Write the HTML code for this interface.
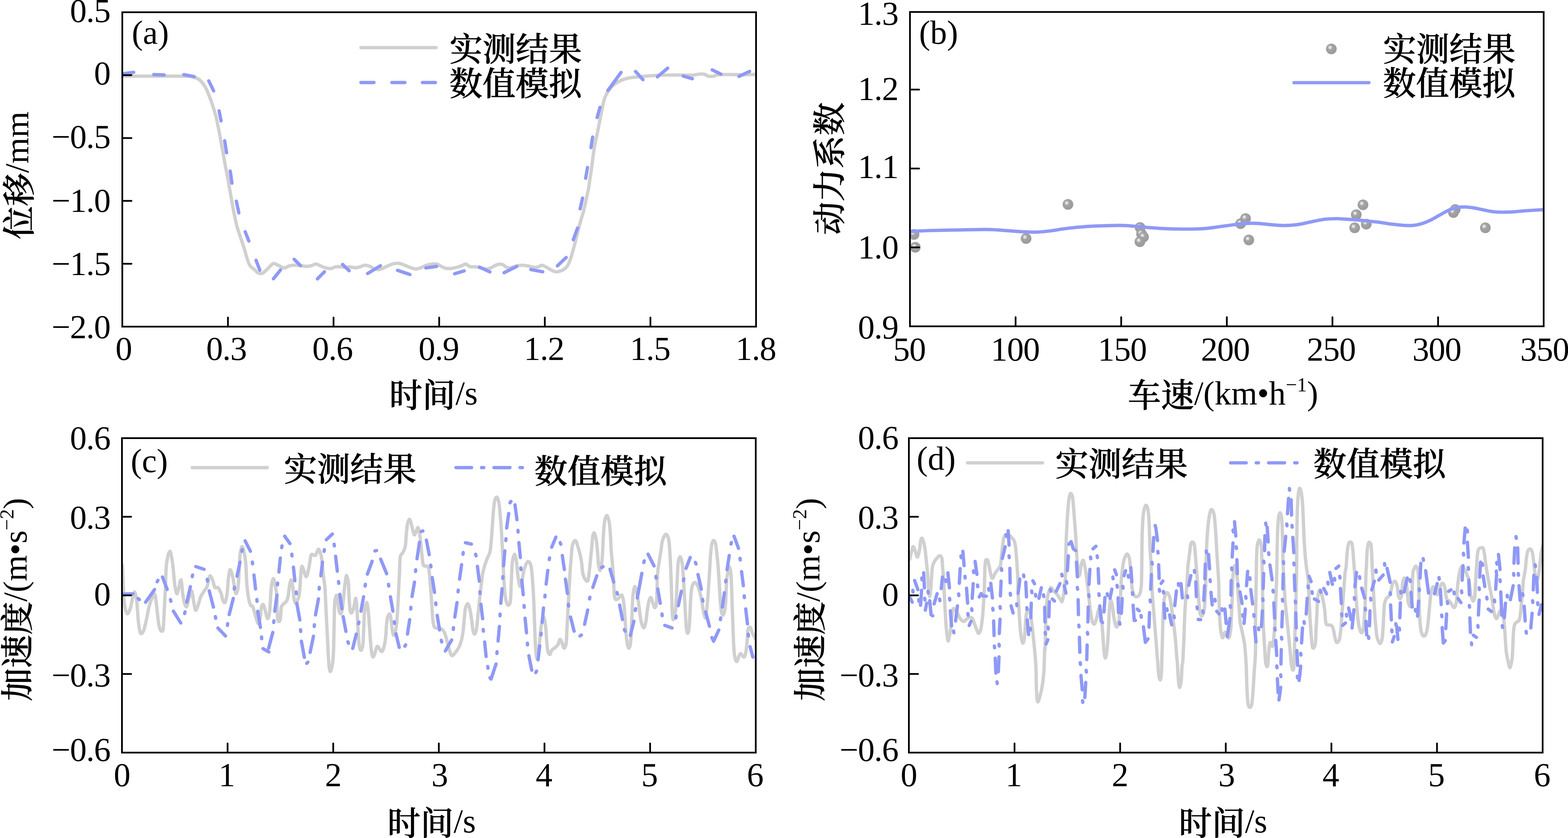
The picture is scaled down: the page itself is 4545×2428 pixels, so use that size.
<!DOCTYPE html>
<html lang="zh"><head><meta charset="utf-8"><title>Figure</title>
<style>html,body{margin:0;padding:0;background:#fff}body{width:4545px;height:2428px;overflow:hidden}svg{display:block}text{font-family:"Liberation Serif","Noto Serif CJK SC",serif;fill:#000}.t{font-size:97px}.k{letter-spacing:-1.5px}.c{font-size:96px;font-weight:500;stroke:#000;stroke-width:1.1px}.s{font-size:58px}.g{fill:none;stroke:#d0d0d0;stroke-width:9.7;stroke-linecap:round;stroke-linejoin:round}.b{fill:none;stroke:#8f99f6;stroke-width:9.7;stroke-linecap:round;stroke-linejoin:round}.ax{fill:none;stroke:#000;stroke-width:5}.tk{stroke:#000;stroke-width:5;stroke-linecap:round}</style></head><body>
<svg xmlns="http://www.w3.org/2000/svg" width="4545" height="2428" viewBox="0 0 4545 2428">
<defs>
<radialGradient id="sp" cx="0.40" cy="0.38" r="0.62" fx="0.38" fy="0.36"><stop offset="0" stop-color="#f4f4f4"/><stop offset="0.16" stop-color="#dcdcdc"/><stop offset="0.36" stop-color="#a4a4a4"/><stop offset="1" stop-color="#9a9a9a"/></radialGradient>
<clipPath id="cla"><rect x="354.5" y="35.5" width="1837.0" height="910.9"/></clipPath>
<clipPath id="clb"><rect x="2637.6" y="34.7" width="1836.9" height="910.8"/></clipPath>
<clipPath id="clc"><rect x="353.5" y="1269.5" width="1837.1" height="911.1"/></clipPath>
<clipPath id="cld"><rect x="2634.5" y="1269.5" width="1837.0" height="911.1"/></clipPath>
</defs>
<rect width="4545" height="2428" fill="#fff"/>
<g clip-path="url(#cla)">
<path class="g" d="M354.5,220.6C370.4,220.6 422.4,220.6 450.0,220.6C477.6,220.6 504.4,220.5 520.0,220.6C535.6,220.7 538.2,220.8 543.8,221.0C549.4,221.2 548.6,220.5 553.5,221.7C558.4,222.8 567.7,225.2 572.9,227.9C578.1,230.6 581.0,233.7 584.6,237.6C588.2,241.5 591.4,246.3 594.3,251.2C597.2,256.1 599.1,260.0 602.0,266.8C604.9,273.6 608.8,283.9 611.7,292.0C614.6,300.1 617.1,307.5 619.5,315.3C621.9,323.1 624.3,330.8 626.3,338.6C628.2,346.4 629.6,354.1 631.2,361.9C632.8,369.7 634.5,377.4 636.0,385.2C637.5,392.9 638.3,399.5 639.9,408.4C641.5,417.3 643.7,427.3 645.8,438.8C647.9,450.3 650.2,464.7 652.6,477.6C655.0,490.6 657.9,503.6 660.3,516.5C662.7,529.5 664.8,542.4 667.1,555.3C669.4,568.2 671.8,582.8 673.9,594.1C676.0,605.4 677.7,614.5 679.5,623.2C681.3,631.9 682.7,639.0 684.5,646.5C686.3,654.0 687.9,659.6 690.5,668.0C693.1,676.4 697.0,687.3 700.2,697.0C703.4,706.7 707.0,716.8 709.9,726.2C712.8,735.6 715.0,745.9 717.6,753.3C720.2,760.7 722.2,766.3 725.4,770.8C728.6,775.3 733.1,777.1 737.0,780.5C740.9,783.9 744.8,789.3 748.7,791.2C752.6,793.1 756.4,793.2 760.3,791.8C764.2,790.3 768.1,786.0 772.0,782.5C775.9,779.0 780.1,774.0 783.6,770.8C787.1,767.6 789.4,763.7 793.3,763.4C797.2,763.1 801.7,766.8 806.9,768.9C812.1,771.0 819.2,776.0 824.4,776.2C829.6,776.5 833.8,771.7 838.0,770.4C842.2,769.1 844.4,768.7 849.6,768.5C854.8,768.3 862.5,768.8 869.0,769.3C875.5,769.8 882.9,771.7 888.4,771.8C893.9,771.9 897.5,770.9 902.0,769.8C906.5,768.7 911.4,765.0 915.6,765.0C919.8,765.0 922.8,768.0 927.3,769.8C931.8,771.6 937.6,774.3 942.8,775.7C948.0,777.1 953.8,778.5 958.3,778.2C962.8,777.9 966.1,774.6 970.0,773.7C973.9,772.8 976.8,772.6 981.6,772.7C986.5,772.8 993.6,774.1 999.1,774.3C1004.6,774.5 1009.1,773.5 1014.6,773.7C1020.1,773.9 1026.9,775.9 1032.1,775.7C1037.3,775.5 1041.5,773.6 1045.7,772.4C1049.9,771.2 1052.8,768.6 1057.3,768.5C1061.8,768.4 1068.3,770.1 1072.8,771.8C1077.3,773.5 1080.0,777.1 1084.5,778.6C1089.0,780.1 1094.2,782.0 1100.0,781.0C1105.8,780.0 1112.9,775.4 1119.4,772.7C1125.9,770.0 1132.7,766.2 1138.8,764.6C1144.9,763.0 1150.5,762.3 1156.3,763.0C1162.1,763.7 1168.0,766.8 1173.8,768.9C1179.6,771.0 1186.0,773.9 1191.2,775.7C1196.4,777.5 1200.0,779.5 1204.8,779.5C1209.6,779.5 1215.1,777.5 1220.3,775.7C1225.5,773.9 1230.4,770.3 1235.9,768.5C1241.4,766.7 1248.1,765.5 1253.3,765.0C1258.5,764.5 1262.4,764.1 1266.9,765.4C1271.4,766.7 1276.0,770.7 1280.5,772.7C1285.0,774.7 1289.2,776.8 1294.1,777.6C1298.9,778.4 1304.1,778.2 1309.6,777.6C1315.1,777.0 1321.9,775.2 1327.1,773.7C1332.3,772.2 1336.8,770.4 1340.7,768.9C1344.6,767.4 1346.9,764.4 1350.4,765.0C1354.0,765.6 1357.5,771.0 1362.0,772.4C1366.5,773.8 1372.8,772.5 1377.6,773.1C1382.4,773.7 1385.9,774.6 1391.1,775.7C1396.3,776.8 1403.4,779.4 1408.6,779.5C1413.8,779.6 1417.7,778.4 1422.2,776.6C1426.7,774.8 1431.3,770.8 1435.8,768.9C1440.3,767.0 1445.5,765.6 1449.4,765.4C1453.3,765.2 1455.9,766.3 1459.1,767.9C1462.3,769.5 1465.2,773.4 1468.8,774.7C1472.3,776.0 1475.9,776.4 1480.4,775.7C1484.9,775.1 1490.5,772.0 1496.0,770.8C1501.5,769.6 1507.6,768.5 1513.4,768.5C1519.2,768.5 1525.1,769.8 1530.9,770.8C1536.7,771.8 1543.2,774.4 1548.4,774.7C1553.6,775.0 1558.5,773.7 1562.0,772.7C1565.5,771.7 1566.5,768.5 1569.7,768.5C1572.9,768.5 1576.9,770.4 1581.4,772.7C1586.0,775.0 1592.1,779.7 1597.0,782.1C1601.9,784.5 1606.4,786.7 1610.6,787.3C1614.8,787.9 1618.1,787.2 1622.3,785.9C1626.5,784.6 1632.0,782.3 1635.9,779.5C1639.8,776.7 1642.7,773.6 1645.6,768.9C1648.5,764.2 1651.0,757.5 1653.3,751.4C1655.6,745.2 1657.2,738.8 1659.2,732.0C1661.2,725.2 1663.1,718.1 1665.0,710.6C1666.9,703.1 1668.9,695.1 1670.8,687.3C1672.7,679.5 1674.6,671.9 1676.6,664.0C1678.6,656.1 1680.6,648.5 1683.0,640.0C1685.4,631.5 1688.5,623.2 1691.2,612.9C1693.9,602.6 1696.6,589.0 1699.0,578.0C1701.4,567.0 1704.0,556.6 1705.8,546.9C1707.6,537.2 1708.2,529.5 1709.7,519.8C1711.2,510.1 1713.0,499.1 1714.5,488.7C1716.0,478.3 1717.1,467.3 1718.4,457.6C1719.7,447.9 1721.0,438.8 1722.3,430.5C1723.6,422.2 1724.9,415.9 1726.5,408.0C1728.1,400.1 1730.0,392.9 1732.0,382.9C1734.0,372.9 1736.7,358.7 1738.8,348.0C1740.9,337.3 1742.8,327.6 1744.6,318.9C1746.4,310.2 1747.7,302.4 1749.5,295.6C1751.3,288.8 1752.9,283.6 1755.3,278.1C1757.7,272.6 1760.4,267.8 1764.1,262.6C1767.8,257.4 1772.8,251.4 1777.6,247.0C1782.4,242.6 1788.0,239.3 1793.2,236.4C1798.4,233.5 1803.2,231.4 1808.7,229.6C1814.2,227.8 1819.7,226.4 1826.2,225.3C1832.7,224.2 1839.4,223.6 1847.5,222.8C1855.6,222.0 1865.3,221.1 1874.7,220.3C1884.1,219.6 1894.1,218.8 1903.8,218.3C1913.5,217.8 1921.6,217.6 1932.9,217.5C1944.2,217.4 1960.1,217.4 1971.7,217.5C1983.3,217.6 1995.7,218.0 2002.8,217.9C2009.9,217.8 2010.9,217.5 2014.4,217.0C2018.0,216.5 2019.6,215.3 2024.1,215.0C2028.6,214.7 2036.7,214.0 2041.6,215.0C2046.5,216.0 2048.8,219.8 2053.3,220.8C2057.8,221.8 2064.3,221.5 2068.8,220.8C2073.3,220.1 2073.9,217.2 2080.4,216.4C2086.9,215.6 2096.6,216.0 2107.6,216.0C2118.6,216.0 2132.8,216.5 2146.4,216.4C2160.0,216.3 2181.9,215.7 2189.0,215.6"/>
<path class="b" d="M359.3,213.4L387.6,209.5M445.8,216.1L475.9,217.1M533.1,216.2L563.2,222.1M605.1,234.3L619.3,263.3M635.0,321.1L640.8,350.2M651.2,407.8L656.7,442.7M667.4,495.6L672.3,530.7M685.0,582.9L692.3,616.8M710.7,671.5L721.3,698.4M742.2,754.3L753.2,782.8M792.5,807.8L813.2,782.0M852.6,751.3L871.1,769.7M920.0,808.1L940.4,787.5M992.9,766.1L1012.1,784.5M1065.4,792.6L1102.8,769.9M1152.2,783.1L1188.2,795.4M1234.5,776.3L1265.6,771.9M1317.7,793.1L1345.4,784.8M1389.7,773.8L1420.1,787.8M1461.1,790.1L1497.9,771.9M1538.6,780.9L1573.2,787.4M1615.7,770.3L1641.1,746.1M1661.8,694.4L1674.0,660.9M1681.6,605.1L1688.6,573.9M1697.5,516.5L1703.0,485.3M1713.0,427.6L1717.8,397.1M1730.8,340.4L1739.1,311.0M1762.0,262.2L1800.1,209.8M1842.1,207.0L1863.6,230.8M1905.6,222.6L1935.4,197.4M1980.2,220.3L2006.9,228.2M2064.4,202.3L2089.7,214.8M2142.1,221.3L2172.7,206.8"/>
</g>
<g clip-path="url(#clb)">
<circle cx="2649.3" cy="679.2" r="15.5" fill="url(#sp)"/>
<circle cx="2653.1" cy="716.5" r="15.5" fill="url(#sp)"/>
<circle cx="2974.2" cy="691.1" r="15.5" fill="url(#sp)"/>
<circle cx="3095.5" cy="592.2" r="15.5" fill="url(#sp)"/>
<circle cx="3304.6" cy="659.3" r="15.5" fill="url(#sp)"/>
<circle cx="3308.8" cy="677.9" r="15.5" fill="url(#sp)"/>
<circle cx="3314.6" cy="686.6" r="15.5" fill="url(#sp)"/>
<circle cx="3304.1" cy="700.3" r="15.5" fill="url(#sp)"/>
<circle cx="3595.9" cy="648.1" r="15.5" fill="url(#sp)"/>
<circle cx="3610.3" cy="633.2" r="15.5" fill="url(#sp)"/>
<circle cx="3619.8" cy="695.3" r="15.5" fill="url(#sp)"/>
<circle cx="3950.7" cy="593.4" r="15.5" fill="url(#sp)"/>
<circle cx="3931.3" cy="622.0" r="15.5" fill="url(#sp)"/>
<circle cx="3926.6" cy="660.0" r="15.5" fill="url(#sp)"/>
<circle cx="3960.2" cy="649.4" r="15.5" fill="url(#sp)"/>
<circle cx="4217.9" cy="607.1" r="15.5" fill="url(#sp)"/>
<circle cx="4212.9" cy="615.8" r="15.5" fill="url(#sp)"/>
<circle cx="4305.4" cy="660.0" r="15.5" fill="url(#sp)"/>
<path class="b" d="M2637.6,670.6C2647.1,670.2 2672.7,668.7 2694.6,668.0C2716.5,667.3 2742.2,666.8 2769.1,666.3C2796.0,665.8 2835.4,664.8 2856.1,664.8C2876.8,664.8 2878.9,665.4 2893.4,666.3C2907.9,667.2 2928.6,669.2 2943.1,670.2C2957.6,671.2 2970.0,671.8 2980.4,672.2C2990.8,672.6 2995.0,673.0 3005.3,672.5C3015.7,672.0 3028.0,671.0 3042.5,669.2C3057.0,667.4 3075.6,663.9 3092.2,661.8C3108.8,659.7 3125.3,658.0 3141.9,656.8C3158.5,655.5 3175.3,654.9 3191.7,654.3C3208.0,653.7 3227.8,653.2 3240.0,653.1C3252.2,653.0 3252.5,652.8 3264.9,653.6C3277.3,654.4 3298.0,656.7 3314.6,658.1C3331.2,659.5 3347.7,660.9 3364.3,661.8C3380.9,662.7 3397.4,663.2 3414.0,663.5C3430.6,663.8 3449.2,663.9 3463.7,663.5C3478.2,663.1 3488.6,662.5 3501.0,661.3C3513.4,660.1 3525.9,658.0 3538.3,656.3C3550.7,654.6 3565.2,652.6 3575.5,651.3C3585.8,650.0 3592.1,649.1 3600.4,648.4C3608.7,647.7 3616.9,647.0 3625.2,646.9C3633.5,646.8 3639.7,646.9 3650.1,647.6C3660.5,648.3 3675.0,650.3 3687.4,651.3C3699.8,652.2 3712.3,653.4 3724.7,653.3C3737.1,653.2 3749.5,652.3 3761.9,650.6C3774.3,648.9 3786.8,645.6 3799.2,643.1C3811.6,640.6 3824.7,637.3 3836.5,635.7C3848.3,634.1 3861.9,633.9 3870.0,633.6C3878.1,633.3 3876.2,633.5 3884.9,634.0C3893.6,634.5 3909.7,635.4 3922.1,636.4C3934.5,637.4 3947.0,638.6 3959.4,639.9C3971.8,641.1 3984.3,642.3 3996.7,643.9C4009.1,645.5 4021.6,647.9 4034.0,649.4C4046.4,650.9 4061.0,652.5 4071.3,653.1C4081.7,653.7 4087.8,653.9 4096.1,653.1C4104.4,652.3 4112.7,650.6 4121.0,648.1C4129.3,645.6 4137.5,642.1 4145.8,638.2C4154.1,634.3 4162.4,629.1 4170.7,624.5C4179.0,619.9 4187.2,614.6 4195.5,610.8C4203.8,607.0 4212.1,603.5 4220.4,601.6C4228.7,599.8 4237.0,599.6 4245.3,599.7C4253.6,599.8 4261.8,600.9 4270.1,602.1C4278.4,603.3 4286.7,605.4 4295.0,607.1C4303.3,608.8 4311.5,610.9 4319.8,612.1C4328.1,613.4 4334.4,614.3 4344.7,614.6C4355.0,614.9 4369.5,614.7 4381.9,614.1C4394.3,613.5 4403.8,611.9 4419.2,610.8C4434.6,609.7 4465.3,608.0 4474.5,607.4"/>
</g>
<g clip-path="url(#clc)">
<path class="g" d="M354.5,1636.0C354.9,1645.0 356.2,1673.3 357.0,1690.0C357.8,1706.7 358.1,1723.1 359.3,1736.0C360.5,1748.9 362.2,1760.4 364.0,1767.4C365.8,1774.4 367.6,1779.4 370.0,1778.2C372.4,1777.0 376.1,1768.0 378.5,1760.2C380.9,1752.4 382.5,1738.7 384.5,1731.3C386.5,1723.9 388.5,1713.6 390.5,1715.6C392.5,1717.6 395.0,1730.6 396.6,1743.3C398.2,1756.0 399.0,1778.7 400.2,1791.5C401.4,1804.3 402.4,1812.9 403.8,1820.3C405.2,1827.7 406.4,1835.2 408.6,1836.0C410.8,1836.8 414.4,1831.7 417.0,1825.1C419.6,1818.5 421.8,1807.1 424.2,1796.3C426.6,1785.5 428.7,1771.0 431.5,1760.2C434.3,1749.4 438.2,1737.9 441.0,1731.3C443.8,1724.7 446.3,1717.7 448.3,1720.5C450.3,1723.3 451.5,1736.3 453.1,1748.1C454.7,1759.9 456.5,1780.3 457.9,1791.5C459.3,1802.7 460.1,1809.5 461.5,1815.5C462.9,1821.5 464.6,1826.0 466.4,1827.6C468.2,1829.2 471.0,1830.3 472.4,1825.1C473.8,1819.9 474.0,1809.1 474.8,1796.3C475.6,1783.5 476.4,1764.1 477.2,1748.1C478.0,1732.0 478.8,1717.9 479.6,1700.0C480.4,1682.1 480.8,1655.7 482.0,1640.7C483.2,1625.7 485.2,1617.2 487.0,1610.0C488.8,1602.8 491.1,1597.1 492.8,1597.4C494.5,1597.7 495.6,1604.8 497.0,1612.0C498.4,1619.2 499.8,1627.7 501.3,1640.7C502.8,1653.7 504.8,1679.3 506.0,1690.0C507.2,1700.7 507.4,1699.9 508.5,1705.0C509.6,1710.1 511.2,1720.5 512.8,1720.5C514.4,1720.5 516.0,1711.7 518.0,1705.0C520.0,1698.3 522.8,1677.2 524.8,1680.4C526.8,1683.6 528.4,1712.8 530.1,1724.1C531.8,1735.4 533.2,1742.5 535.0,1748.1C536.8,1753.7 539.0,1759.8 541.0,1757.8C543.0,1755.8 544.6,1743.7 547.0,1736.1C549.4,1728.5 553.2,1712.0 555.4,1712.0C557.6,1712.0 558.6,1727.7 560.2,1736.1C561.8,1744.5 563.6,1757.4 565.0,1762.6C566.4,1767.8 566.8,1769.8 568.6,1767.4C570.4,1765.0 573.9,1754.1 575.9,1748.1C577.9,1742.1 578.3,1736.9 580.7,1731.3C583.1,1725.7 587.1,1719.6 590.3,1714.4C593.5,1709.2 597.6,1705.9 600.0,1700.0C602.4,1694.1 603.1,1684.5 604.7,1679.2C606.3,1673.9 607.6,1668.0 609.6,1668.4C611.6,1668.8 614.6,1676.0 616.8,1681.6C619.0,1687.2 620.2,1698.4 622.8,1702.0C625.4,1705.6 629.4,1700.1 632.4,1703.0C635.4,1705.9 638.6,1713.4 640.8,1719.3C643.0,1725.2 643.8,1734.1 645.7,1738.5C647.6,1742.9 650.2,1748.1 652.2,1745.7C654.2,1743.3 656.4,1731.7 657.7,1724.1C659.0,1716.5 659.4,1707.9 660.1,1700.0C660.8,1692.1 660.8,1685.1 662.0,1676.8C663.2,1668.5 665.0,1650.3 667.3,1650.3C669.6,1650.3 673.7,1668.4 675.7,1676.8C677.7,1685.2 678.0,1693.7 679.4,1700.9C680.8,1708.2 682.4,1720.3 684.2,1720.3C686.0,1720.3 688.6,1714.2 690.2,1700.9C691.8,1687.6 692.8,1656.8 693.8,1640.7C694.8,1624.7 694.8,1614.0 696.2,1604.6C697.6,1595.2 700.0,1583.3 702.2,1584.1C704.4,1584.9 707.6,1600.0 709.4,1609.4C711.2,1618.8 712.0,1626.6 713.0,1640.7C714.0,1654.8 714.5,1680.1 715.5,1694.0C716.5,1707.9 717.9,1715.9 719.1,1724.1C720.3,1732.3 721.3,1738.1 722.7,1743.3C724.1,1748.5 725.9,1753.2 727.5,1755.4C729.1,1757.6 730.7,1753.8 732.3,1756.6C733.9,1759.4 735.5,1766.8 737.1,1772.2C738.7,1777.6 740.3,1783.8 741.9,1789.0C743.5,1794.2 745.5,1800.7 746.7,1803.5C747.9,1806.3 747.9,1807.9 749.1,1805.9C750.3,1803.9 752.6,1799.1 754.0,1791.5C755.4,1783.9 756.1,1766.8 757.6,1760.2C759.1,1753.6 761.3,1750.5 763.1,1751.7C764.9,1752.9 766.7,1761.6 768.4,1767.4C770.1,1773.2 771.8,1782.6 773.2,1786.6C774.6,1790.6 775.4,1793.9 776.8,1791.5C778.2,1789.1 780.4,1781.4 781.6,1772.2C782.8,1763.0 783.2,1748.0 784.0,1736.1C784.8,1724.2 785.2,1710.8 786.5,1700.9C787.8,1691.0 790.2,1678.0 792.0,1676.8C793.8,1675.6 795.6,1685.7 797.3,1693.6C799.0,1701.5 801.1,1713.0 802.1,1724.1C803.1,1735.2 802.9,1749.0 803.3,1760.2C803.7,1771.4 803.7,1784.7 804.5,1791.5C805.3,1798.3 806.7,1801.1 808.1,1801.1C809.5,1801.1 811.7,1798.3 812.9,1791.5C814.1,1784.7 813.9,1767.0 815.3,1760.2C816.7,1753.4 818.7,1753.7 821.3,1750.5C823.9,1747.3 828.6,1745.3 831.0,1740.9C833.4,1736.5 834.4,1731.6 835.8,1724.1C837.2,1716.6 838.0,1703.3 839.4,1696.0C840.8,1688.7 842.7,1679.7 844.2,1680.4C845.7,1681.1 847.1,1690.7 848.5,1700.0C849.9,1709.3 851.1,1728.0 852.6,1736.0C854.1,1744.0 855.7,1747.8 857.4,1748.1C859.1,1748.4 861.4,1742.0 863.0,1738.0C864.6,1734.0 866.0,1730.4 867.1,1724.1C868.2,1717.8 868.8,1709.0 869.5,1700.0C870.2,1691.0 870.5,1679.9 871.5,1670.0C872.5,1660.1 872.8,1640.6 875.5,1640.7C878.2,1640.8 884.1,1670.8 887.5,1670.8C890.9,1670.8 893.8,1650.5 896.0,1640.7C898.2,1630.9 899.4,1617.6 900.8,1611.8C902.2,1606.0 902.2,1606.2 904.4,1605.8C906.6,1605.4 911.4,1611.0 914.0,1609.4C916.6,1607.8 918.2,1599.0 920.0,1596.2C921.8,1593.4 922.8,1589.1 924.8,1592.5C926.8,1595.9 930.1,1604.5 932.1,1616.6C934.1,1628.6 935.3,1650.8 936.9,1664.8C938.5,1678.8 940.5,1686.6 941.7,1700.5C942.9,1714.4 943.3,1732.1 944.1,1748.1C944.9,1764.1 945.7,1780.2 946.5,1796.3C947.3,1812.3 948.1,1828.4 948.9,1844.4C949.7,1860.4 950.5,1878.5 951.3,1892.5C952.1,1906.5 952.7,1919.7 953.7,1928.6C954.7,1937.5 955.8,1946.0 957.3,1946.0C958.8,1946.0 961.4,1937.5 962.9,1928.6C964.4,1919.7 965.7,1906.5 966.5,1892.5C967.3,1878.5 967.3,1860.4 967.7,1844.4C968.1,1828.4 968.5,1812.3 968.9,1796.3C969.3,1780.2 969.1,1760.1 970.1,1748.1C971.1,1736.1 973.3,1724.5 974.9,1724.5C976.5,1724.5 978.3,1740.1 979.7,1748.1C981.1,1756.0 981.7,1767.4 983.3,1772.2C984.9,1777.0 987.5,1781.0 989.3,1777.0C991.1,1773.0 992.8,1758.9 994.2,1748.1C995.6,1737.3 996.8,1721.7 997.8,1712.0C998.8,1702.3 999.1,1697.5 1000.2,1690.0C1001.3,1682.5 1002.9,1667.3 1004.5,1667.1C1006.1,1666.9 1008.6,1679.3 1009.8,1688.8C1011.0,1698.3 1010.7,1711.0 1011.5,1724.1C1012.3,1737.2 1013.3,1758.8 1014.6,1767.4C1015.9,1776.0 1017.6,1777.0 1019.4,1775.8C1021.2,1774.6 1023.4,1767.2 1025.4,1760.2C1027.4,1753.2 1029.9,1731.7 1031.5,1733.7C1033.1,1735.7 1034.1,1757.8 1035.1,1772.2C1036.1,1786.6 1036.5,1804.2 1037.5,1820.3C1038.5,1836.3 1039.7,1857.9 1041.1,1868.5C1042.5,1879.1 1044.1,1884.1 1045.9,1884.1C1047.7,1884.1 1050.5,1879.1 1051.9,1868.5C1053.3,1857.9 1053.5,1836.3 1054.3,1820.3C1055.1,1804.2 1055.3,1784.6 1056.7,1772.2C1058.1,1759.8 1060.9,1745.7 1062.7,1745.7C1064.5,1745.7 1066.2,1759.8 1067.6,1772.2C1069.0,1784.6 1070.0,1804.2 1071.2,1820.3C1072.4,1836.3 1073.6,1855.7 1074.8,1868.5C1076.0,1881.3 1077.2,1891.6 1078.4,1897.4C1079.6,1903.2 1080.6,1904.2 1082.0,1903.4C1083.4,1902.6 1084.8,1897.6 1086.8,1892.5C1088.8,1887.4 1090.8,1873.6 1094.0,1872.8C1097.2,1872.0 1102.9,1887.6 1106.1,1887.7C1109.3,1887.8 1111.3,1880.5 1113.3,1873.3C1115.3,1866.1 1116.9,1855.2 1118.1,1844.4C1119.3,1833.6 1119.5,1817.9 1120.5,1808.3C1121.5,1798.7 1122.5,1791.4 1124.1,1786.6C1125.7,1781.8 1128.5,1777.8 1130.1,1779.4C1131.7,1781.0 1132.7,1789.5 1133.7,1796.3C1134.7,1803.1 1135.0,1812.9 1136.2,1820.3C1137.4,1827.7 1139.2,1840.0 1141.0,1840.8C1142.8,1841.6 1145.4,1832.5 1147.0,1825.1C1148.6,1817.7 1149.6,1807.1 1150.6,1796.3C1151.6,1785.5 1152.2,1774.6 1153.0,1760.2C1153.8,1745.8 1154.6,1725.9 1155.4,1710.0C1156.2,1694.1 1157.0,1680.8 1157.8,1664.8C1158.6,1648.8 1158.4,1625.0 1160.2,1614.2C1162.0,1603.4 1166.2,1605.0 1168.6,1599.8C1171.0,1594.6 1173.3,1590.1 1174.7,1582.9C1176.1,1575.7 1176.1,1566.8 1177.1,1556.4C1178.1,1546.0 1179.0,1528.9 1180.7,1520.3C1182.4,1511.7 1185.2,1503.9 1187.4,1504.7C1189.6,1505.5 1192.0,1518.6 1193.9,1525.2C1195.8,1531.8 1197.3,1540.4 1198.7,1544.4C1200.1,1548.4 1200.9,1550.4 1202.3,1549.2C1203.7,1548.0 1205.5,1540.6 1207.1,1537.2C1208.7,1533.8 1210.4,1526.8 1212.0,1528.8C1213.6,1530.8 1215.4,1540.2 1216.8,1549.2C1218.2,1558.2 1219.2,1571.7 1220.4,1582.9C1221.6,1594.1 1222.8,1607.4 1224.0,1616.6C1225.2,1625.8 1225.2,1634.3 1227.6,1638.3C1230.0,1642.3 1235.7,1638.3 1238.4,1640.7C1241.1,1643.1 1242.3,1644.8 1243.7,1652.7C1245.1,1660.6 1245.8,1674.1 1246.9,1688.0C1248.0,1701.9 1249.5,1722.1 1250.5,1736.1C1251.5,1750.1 1252.1,1761.4 1252.9,1772.2C1253.7,1783.0 1254.1,1793.5 1255.3,1801.1C1256.5,1808.7 1257.3,1814.7 1260.1,1817.9C1262.9,1821.1 1268.5,1819.3 1272.1,1820.3C1275.7,1821.3 1279.0,1821.5 1281.8,1823.9C1284.6,1826.3 1286.8,1829.8 1289.0,1834.8C1291.2,1839.8 1293.0,1846.8 1295.0,1854.0C1297.0,1861.2 1298.6,1870.5 1301.0,1878.1C1303.4,1885.6 1306.2,1897.3 1309.4,1899.3C1312.6,1901.3 1316.9,1894.0 1320.3,1890.1C1323.7,1886.2 1327.1,1881.3 1329.9,1875.7C1332.7,1870.1 1335.1,1863.6 1337.1,1856.4C1339.1,1849.2 1340.5,1842.4 1341.9,1832.4C1343.3,1822.4 1344.3,1807.9 1345.5,1796.3C1346.7,1784.7 1347.3,1770.4 1349.1,1762.6C1350.9,1754.8 1354.2,1748.5 1356.4,1749.3C1358.6,1750.1 1360.6,1759.6 1362.4,1767.4C1364.2,1775.2 1365.8,1786.7 1367.2,1796.3C1368.6,1805.9 1369.3,1818.3 1370.8,1825.1C1372.3,1831.9 1374.3,1838.0 1376.1,1837.2C1377.9,1836.4 1380.1,1829.1 1381.6,1820.3C1383.1,1811.5 1384.1,1796.2 1385.3,1784.2C1386.5,1772.2 1387.7,1759.6 1388.9,1748.1C1390.1,1736.6 1391.4,1724.7 1392.5,1715.0C1393.6,1705.3 1394.5,1698.4 1395.5,1690.0C1396.5,1681.6 1397.0,1673.0 1398.5,1664.8C1400.0,1656.6 1402.1,1648.7 1404.5,1640.7C1406.9,1632.7 1410.3,1623.4 1412.9,1616.6C1415.5,1609.8 1418.3,1607.8 1420.1,1599.8C1421.9,1591.8 1422.6,1581.8 1423.8,1568.5C1425.0,1555.2 1426.2,1536.3 1427.4,1520.3C1428.6,1504.2 1429.8,1484.2 1431.0,1472.2C1432.2,1460.2 1432.9,1453.3 1434.6,1448.1C1436.3,1442.9 1439.1,1438.9 1441.1,1440.9C1443.1,1442.9 1445.1,1451.0 1446.6,1460.2C1448.1,1469.4 1449.0,1482.3 1450.2,1496.3C1451.4,1510.3 1452.8,1528.4 1453.8,1544.4C1454.8,1560.4 1455.5,1576.5 1456.3,1592.5C1457.1,1608.5 1457.9,1624.8 1458.7,1640.7C1459.5,1656.6 1460.1,1673.3 1461.1,1688.0C1462.1,1702.7 1462.9,1718.1 1464.7,1728.9C1466.5,1739.7 1469.5,1750.5 1471.9,1752.9C1474.3,1755.3 1477.5,1752.1 1479.1,1743.3C1480.7,1734.5 1480.8,1713.1 1481.5,1700.0C1482.2,1686.9 1482.4,1676.7 1483.0,1664.8C1483.6,1652.9 1483.7,1638.4 1485.1,1628.6C1486.5,1618.8 1489.2,1605.8 1491.2,1605.8C1493.2,1605.8 1495.6,1618.8 1497.2,1628.6C1498.8,1638.4 1499.6,1654.8 1500.8,1664.8C1502.0,1674.8 1503.2,1683.2 1504.4,1688.8C1505.6,1694.4 1506.4,1700.4 1508.0,1698.4C1509.6,1696.4 1512.0,1685.2 1514.0,1676.8C1516.0,1668.4 1517.4,1656.1 1520.0,1647.9C1522.6,1639.7 1526.5,1628.6 1529.7,1627.4C1532.9,1626.2 1536.9,1630.6 1539.3,1640.7C1541.7,1650.8 1542.7,1670.1 1544.1,1688.0C1545.5,1705.9 1546.6,1728.0 1547.5,1748.1C1548.4,1768.1 1548.8,1788.2 1549.6,1808.3C1550.3,1828.4 1551.0,1852.0 1552.0,1868.5C1553.0,1885.0 1554.2,1903.0 1555.6,1907.0C1557.0,1911.0 1559.1,1900.9 1560.5,1892.5C1561.9,1884.1 1562.9,1868.4 1564.1,1856.4C1565.3,1844.4 1566.3,1830.3 1567.7,1820.3C1569.1,1810.3 1570.9,1801.3 1572.5,1796.3C1574.1,1791.3 1575.7,1786.3 1577.3,1790.3C1578.9,1794.3 1580.9,1809.3 1582.1,1820.3C1583.3,1831.3 1583.5,1845.2 1584.5,1856.4C1585.5,1867.6 1586.5,1881.1 1588.1,1887.7C1589.7,1894.3 1592.4,1896.7 1594.2,1896.1C1596.0,1895.5 1596.4,1887.5 1599.0,1884.1C1601.6,1880.7 1606.6,1878.7 1609.8,1875.7C1613.0,1872.7 1616.0,1869.9 1618.2,1866.1C1620.4,1862.3 1621.2,1853.6 1623.0,1852.8C1624.8,1852.0 1627.0,1857.1 1629.0,1861.3C1631.0,1865.5 1633.1,1877.7 1635.1,1878.1C1637.1,1878.5 1639.7,1873.3 1641.1,1863.7C1642.5,1854.1 1642.7,1835.5 1643.5,1820.3C1644.3,1805.0 1645.1,1787.6 1645.9,1772.2C1646.7,1756.8 1647.5,1745.9 1648.5,1728.0C1649.5,1710.1 1650.7,1683.4 1651.9,1664.8C1653.1,1646.2 1654.3,1630.6 1655.5,1616.6C1656.7,1602.5 1657.1,1588.9 1659.1,1580.5C1661.1,1572.1 1665.0,1565.7 1667.6,1566.1C1670.2,1566.5 1672.6,1576.5 1674.8,1582.9C1677.0,1589.3 1679.0,1597.0 1680.8,1604.6C1682.6,1612.2 1684.2,1619.4 1685.6,1628.6C1687.0,1637.8 1687.6,1651.9 1689.2,1659.9C1690.8,1667.9 1692.8,1673.0 1695.2,1676.8C1697.6,1680.6 1701.5,1686.8 1703.7,1682.8C1705.9,1678.8 1707.1,1663.7 1708.5,1652.7C1709.9,1641.7 1710.9,1628.6 1712.1,1616.6C1713.3,1604.6 1714.7,1590.9 1715.7,1580.5C1716.7,1570.1 1716.9,1560.0 1718.1,1554.0C1719.3,1548.0 1721.1,1542.0 1722.9,1544.4C1724.7,1546.8 1727.3,1558.5 1728.9,1568.5C1730.5,1578.5 1731.5,1593.4 1732.5,1604.6C1733.5,1615.8 1733.7,1627.9 1734.9,1635.9C1736.1,1643.9 1738.2,1653.9 1739.8,1652.7C1741.4,1651.5 1743.4,1638.6 1744.6,1628.6C1745.8,1618.6 1746.2,1606.5 1747.0,1592.5C1747.8,1578.5 1748.4,1558.4 1749.4,1544.4C1750.4,1530.4 1751.3,1516.7 1753.0,1508.3C1754.7,1499.9 1757.3,1492.7 1759.5,1493.9C1761.7,1495.1 1764.5,1505.1 1766.2,1515.5C1767.9,1525.9 1768.9,1543.6 1769.8,1556.4C1770.7,1569.2 1770.7,1580.5 1771.5,1592.5C1772.3,1604.5 1773.6,1615.7 1774.7,1628.6C1775.8,1641.5 1777.0,1654.1 1778.0,1670.0C1779.0,1685.9 1779.5,1712.9 1780.7,1724.1C1782.0,1735.3 1783.1,1736.1 1785.5,1737.3C1787.9,1738.5 1792.3,1733.5 1795.1,1731.3C1797.9,1729.1 1800.1,1721.3 1802.3,1724.1C1804.5,1726.9 1806.7,1736.1 1808.3,1748.1C1809.9,1760.1 1811.0,1782.2 1812.0,1796.3C1813.0,1810.3 1813.4,1821.2 1814.4,1832.4C1815.4,1843.6 1816.6,1856.1 1818.0,1863.7C1819.4,1871.3 1821.2,1878.1 1822.8,1878.1C1824.4,1878.1 1826.4,1873.3 1827.6,1863.7C1828.8,1854.1 1829.2,1835.5 1830.0,1820.3C1830.8,1805.0 1831.6,1788.2 1832.4,1772.2C1833.2,1756.2 1833.4,1736.2 1834.8,1724.1C1836.2,1712.0 1838.4,1697.6 1840.8,1699.6C1843.2,1701.6 1847.1,1724.0 1849.3,1736.1C1851.5,1748.2 1852.5,1761.0 1854.1,1772.2C1855.7,1783.4 1856.9,1795.7 1858.9,1803.5C1860.9,1811.3 1863.9,1819.5 1866.1,1819.1C1868.3,1818.7 1870.5,1808.9 1872.1,1801.1C1873.7,1793.3 1874.3,1781.8 1875.7,1772.2C1877.1,1762.6 1878.8,1750.1 1880.6,1743.3C1882.4,1736.5 1884.6,1730.5 1886.6,1731.3C1888.6,1732.1 1890.6,1743.3 1892.6,1748.1C1894.6,1752.9 1896.8,1761.5 1898.6,1760.2C1900.4,1758.9 1902.2,1755.9 1903.4,1740.0C1904.6,1724.1 1904.6,1683.4 1905.8,1664.8C1907.0,1646.2 1909.0,1639.8 1910.6,1628.6C1912.2,1617.4 1913.9,1607.8 1915.5,1597.4C1917.1,1587.0 1917.8,1574.3 1920.3,1566.1C1922.8,1557.9 1927.4,1548.4 1930.4,1548.0C1933.4,1547.6 1936.4,1554.3 1938.3,1563.7C1940.2,1573.1 1940.9,1589.8 1941.9,1604.6C1942.9,1619.4 1943.5,1633.5 1944.3,1652.7C1945.1,1671.9 1945.9,1698.1 1946.7,1720.0C1947.5,1741.9 1948.1,1771.9 1949.1,1784.2C1950.1,1796.5 1951.4,1795.9 1952.8,1793.9C1954.2,1791.9 1956.3,1782.7 1957.6,1772.2C1958.9,1761.7 1959.5,1748.9 1960.5,1731.0C1961.5,1713.1 1962.7,1681.9 1963.6,1664.8C1964.5,1647.7 1964.7,1637.2 1966.0,1628.6C1967.3,1620.0 1969.5,1613.0 1971.3,1613.0C1973.1,1613.0 1975.3,1620.0 1976.8,1628.6C1978.3,1637.2 1979.4,1651.2 1980.4,1664.8C1981.4,1678.4 1982.2,1696.1 1983.0,1710.0C1983.8,1723.9 1984.5,1733.7 1985.3,1748.1C1986.1,1762.5 1986.9,1783.5 1987.7,1796.3C1988.5,1809.1 1989.1,1818.7 1990.1,1825.1C1991.1,1831.5 1992.5,1835.6 1993.7,1834.8C1994.9,1834.0 1996.3,1828.7 1997.3,1820.3C1998.3,1811.9 1998.9,1798.8 1999.7,1784.2C2000.5,1769.7 2001.1,1746.9 2002.1,1733.0C2003.1,1719.1 2003.7,1708.5 2005.7,1700.9C2007.7,1693.3 2011.1,1687.6 2014.1,1687.6C2017.1,1687.6 2020.6,1692.8 2023.8,1700.9C2027.0,1709.0 2031.0,1725.0 2033.4,1736.1C2035.8,1747.2 2036.4,1758.4 2038.2,1767.4C2040.0,1776.4 2042.6,1789.5 2044.2,1790.3C2045.8,1791.1 2046.6,1781.2 2047.8,1772.2C2049.0,1763.2 2050.4,1748.1 2051.4,1736.1C2052.4,1724.1 2053.0,1711.9 2053.8,1700.0C2054.6,1688.1 2055.2,1680.7 2056.2,1664.8C2057.2,1648.9 2058.7,1619.4 2059.9,1604.6C2061.1,1589.8 2062.1,1582.1 2063.5,1575.7C2064.9,1569.3 2066.5,1566.1 2068.3,1566.1C2070.1,1566.1 2072.7,1569.3 2074.3,1575.7C2075.9,1582.1 2076.7,1593.8 2077.9,1604.6C2079.1,1615.4 2080.3,1625.8 2081.5,1640.7C2082.7,1655.6 2084.1,1678.1 2085.1,1694.0C2086.1,1709.9 2086.5,1723.1 2087.5,1736.1C2088.5,1749.1 2089.6,1764.6 2091.1,1772.2C2092.6,1779.8 2094.6,1783.8 2096.4,1781.8C2098.2,1779.8 2100.7,1769.8 2102.0,1760.2C2103.3,1750.6 2103.6,1738.0 2104.4,1724.1C2105.2,1710.2 2105.2,1690.3 2106.8,1676.8C2108.4,1663.3 2112.0,1645.1 2114.0,1643.1C2116.0,1641.1 2117.7,1655.2 2118.8,1664.8C2119.9,1674.4 2119.9,1685.2 2120.5,1700.9C2121.1,1716.6 2121.7,1736.7 2122.5,1758.9C2123.3,1781.2 2124.4,1812.4 2125.3,1834.4C2126.2,1856.4 2126.6,1877.4 2128.2,1891.1C2129.8,1904.8 2132.5,1915.0 2134.8,1916.6C2137.2,1918.2 2140.2,1904.4 2142.3,1900.6C2144.4,1896.8 2144.6,1893.4 2147.1,1893.9C2149.6,1894.4 2154.7,1905.4 2157.4,1903.4C2160.1,1901.4 2161.7,1890.1 2163.1,1881.7C2164.5,1873.3 2165.1,1862.8 2165.9,1853.3C2166.7,1843.8 2166.4,1831.0 2167.8,1825.0C2169.2,1819.0 2172.2,1815.8 2174.4,1817.4C2176.6,1819.0 2178.4,1828.6 2181.1,1834.4C2183.8,1840.2 2189.0,1849.1 2190.6,1852.0"/>
<path class="b" d="M358.1,1721.1L385.6,1720.6M400.2,1734.0L404.0,1737.2M422.0,1744.9L448.1,1708.0M455.5,1685.7L457.9,1681.3M470.9,1671.9L484.7,1707.7M494.2,1737.3L495.4,1742.1M502.6,1770.7L524.0,1805.0M535.1,1777.7L536.3,1772.9M541.6,1744.5L551.9,1699.9M557.3,1670.8L558.3,1666.0M567.4,1641.5L591.5,1649.5M600.6,1678.6L601.6,1683.6M606.5,1712.0L618.6,1759.0M624.2,1786.5L625.2,1791.5M631.7,1819.7L653.6,1842.6M659.3,1812.0L659.9,1807.0M664.3,1780.6L676.3,1733.7M679.0,1706.5L679.8,1701.5M687.1,1669.6L695.7,1628.6M701.2,1597.4L702.2,1592.6M710.5,1567.1L725.9,1597.1M731.5,1628.6L732.1,1633.6M736.2,1666.1L740.7,1706.5M744.6,1737.2L745.0,1742.2M747.1,1771.1L754.8,1817.8M758.1,1845.5L758.5,1850.5M762.2,1879.3L779.4,1888.9M778.6,1878.1L790.7,1832.4M793.5,1803.6L793.9,1798.6M796.4,1770.9L803.0,1724.2M804.3,1694.5L804.7,1689.5M808.4,1657.4L812.6,1616.7M816.6,1586.6L817.4,1581.6M825.2,1553.6L840.4,1574.9M845.8,1605.7L846.4,1610.7M850.5,1643.2L854.7,1682.7M858.5,1715.1L858.9,1720.1M860.3,1748.2L869.1,1796.2M871.2,1824.6L871.6,1829.6M873.6,1857.7L882.2,1904.5M888.9,1921.9L892.5,1918.5M898.9,1890.1L908.7,1843.2M910.9,1815.1L911.3,1810.1M914.5,1781.7L923.1,1735.0M925.1,1706.8L925.5,1701.8M930.0,1668.3L934.9,1628.7M939.4,1597.5L940.2,1592.5M945.9,1563.8L963.5,1547.3M968.6,1576.8L969.2,1581.8M972.8,1611.9L977.7,1655.0M981.3,1685.1L981.9,1690.1M984.9,1722.0L991.3,1763.7M994.7,1786.7L1002.6,1829.4M1008.4,1859.4L1010.2,1864.0M1022.4,1878.6L1032.8,1837.2M1039.4,1807.1L1040.4,1802.3M1046.3,1770.9L1053.9,1729.0M1058.3,1698.0L1059.1,1693.0M1064.8,1663.6L1078.7,1626.1M1086.8,1596.3L1091.6,1595.1M1103.4,1620.1L1120.8,1662.4M1126.1,1693.0L1126.9,1698.0M1131.7,1729.0L1138.9,1770.9M1143.1,1801.5L1143.7,1806.5M1147.6,1836.0L1157.2,1875.7M1173.4,1872.5L1176.0,1868.3M1181.1,1837.1L1187.5,1795.2M1190.6,1764.6L1191.0,1759.6M1194.3,1728.3L1201.5,1686.5M1204.4,1655.7L1205.0,1650.7M1208.8,1618.9L1215.9,1571.0M1221.1,1539.8L1225.9,1538.4M1236.0,1565.0L1244.0,1606.9M1248.5,1637.5L1249.1,1642.5M1252.8,1673.3L1259.6,1716.4M1262.9,1746.8L1263.5,1751.8M1267.2,1783.1L1274.1,1825.1M1279.2,1855.2L1280.4,1860.0M1290.8,1886.0L1309.3,1854.3M1313.9,1823.6L1314.5,1818.6M1318.3,1787.8L1324.7,1745.8M1327.7,1714.7L1328.3,1709.7M1332.1,1677.9L1338.0,1636.0M1342.1,1605.9L1342.7,1600.9M1349.1,1572.6L1366.5,1576.4M1378.6,1605.8L1379.8,1610.6M1383.9,1640.8L1389.3,1683.9M1391.1,1714.5L1391.5,1719.5M1394.0,1750.6L1398.9,1792.6M1400.7,1823.9L1401.1,1828.9M1404.8,1860.1L1409.0,1902.1M1413.7,1931.0L1414.5,1936.0M1420.1,1963.8L1423.3,1967.6L1437.9,1923.8M1440.4,1893.4L1440.8,1888.4M1443.7,1857.5L1447.6,1815.1M1449.4,1784.3L1449.6,1779.3M1451.6,1748.0L1455.3,1705.8M1457.2,1675.7L1457.6,1670.7M1459.6,1639.4L1463.3,1596.2M1466.2,1566.2L1466.6,1561.2M1468.6,1529.9L1474.5,1487.9M1478.2,1456.9L1481.0,1452.9M1492.7,1462.7L1498.5,1505.8M1501.3,1536.6L1501.7,1541.6M1504.1,1572.2L1508.3,1615.3M1509.7,1645.4L1510.1,1650.4M1512.5,1680.5L1516.6,1723.2M1519.1,1754.5L1519.5,1759.5M1522.0,1791.1L1526.2,1833.5M1528.7,1863.6L1529.1,1868.6M1533.0,1899.9L1541.3,1941.8M1552.8,1948.9L1555.4,1944.5M1559.6,1911.7L1564.5,1871.0M1568.1,1839.7L1568.7,1834.7M1571.5,1803.4L1575.4,1761.5M1579.4,1729.5L1580.0,1724.5M1583.1,1692.3L1587.8,1652.8M1592.1,1621.5L1592.9,1616.5M1599.2,1585.4L1611.2,1556.3M1623.9,1572.1L1625.5,1576.9M1629.9,1609.5L1635.9,1650.2M1639.0,1678.1L1644.7,1719.5M1647.5,1750.9L1648.1,1755.9M1653.7,1787.8L1664.1,1828.8M1681.1,1842.7L1685.3,1839.9M1694.5,1808.8L1703.6,1767.4M1708.9,1735.4L1709.9,1730.6M1718.4,1702.1L1729.8,1668.3M1743.6,1644.3L1748.0,1641.9M1768.1,1649.1L1778.8,1686.4M1788.5,1716.7L1789.7,1721.5M1796.1,1753.0L1804.2,1795.0M1809.7,1824.1L1811.9,1828.7M1827.0,1841.5L1837.4,1799.9M1841.6,1768.7L1842.4,1763.7M1847.3,1732.4L1860.4,1661.2M1866.1,1629.8L1867.5,1625.0M1878.5,1605.6L1895.8,1639.7M1901.3,1670.2L1902.1,1675.2M1906.7,1706.5L1913.8,1748.0M1918.7,1778.8L1919.5,1783.8M1927.0,1812.0L1947.9,1819.5M1958.7,1790.2L1959.9,1785.4M1966.0,1754.9L1974.9,1713.0M1981.1,1682.4L1982.1,1677.4M1988.6,1646.8L2000.7,1615.3M2015.5,1629.5L2017.5,1634.1M2023.2,1664.7L2032.8,1706.9M2036.5,1736.7L2037.5,1741.7M2045.3,1772.9L2056.4,1814.3M2063.5,1847.3L2068.5,1858.0L2083.4,1825.5M2088.2,1795.3L2089.0,1790.3M2093.8,1758.9L2099.7,1717.4M2103.4,1686.0L2104.0,1681.0M2107.4,1650.5L2113.8,1609.5M2119.0,1576.4L2120.2,1571.6M2127.7,1553.6L2140.6,1588.7M2145.1,1617.5L2145.7,1622.5M2149.5,1656.0L2154.7,1697.0M2157.3,1726.5L2157.7,1731.5M2161.5,1764.2L2166.6,1807.4M2168.9,1837.6L2169.5,1842.6M2174.2,1873.7L2182.2,1903.8"/>
</g>
<g clip-path="url(#cld)">
<path class="g" d="M2637.2,1620.2C2638.0,1616.5 2640.5,1604.0 2642.2,1598.0C2643.9,1591.9 2645.4,1583.8 2647.3,1583.8C2649.1,1583.8 2651.3,1592.9 2653.3,1598.0C2655.4,1603.0 2657.4,1615.2 2659.4,1614.1C2661.4,1613.1 2663.9,1599.7 2665.5,1591.9C2667.0,1584.2 2667.3,1573.1 2668.5,1567.7C2669.7,1562.3 2670.8,1558.2 2672.5,1559.6C2674.2,1560.9 2676.9,1568.7 2678.6,1575.8C2680.3,1582.8 2681.4,1592.6 2682.6,1602.0C2683.8,1611.4 2684.6,1622.2 2685.7,1632.3C2686.7,1642.4 2687.8,1651.2 2688.7,1662.6C2689.6,1674.0 2690.1,1689.7 2691.1,1700.6C2692.1,1711.5 2693.5,1727.9 2694.7,1727.9C2696.0,1727.9 2697.5,1708.9 2698.4,1700.6C2699.2,1692.3 2699.1,1687.7 2699.8,1678.0C2700.5,1668.3 2701.3,1651.0 2702.8,1642.4C2704.3,1633.8 2706.7,1630.5 2708.9,1626.3C2711.1,1622.1 2713.6,1619.9 2716.0,1617.2C2718.3,1614.5 2720.7,1610.1 2723.0,1610.1C2725.4,1610.1 2728.6,1611.8 2730.1,1617.2C2731.6,1622.6 2731.3,1632.3 2732.1,1642.4C2733.0,1652.6 2734.5,1668.3 2735.2,1678.0C2735.8,1687.7 2735.5,1686.7 2736.2,1700.6C2736.8,1714.5 2738.2,1742.7 2739.2,1761.2C2740.2,1779.7 2741.2,1798.2 2742.2,1811.7C2743.2,1825.2 2744.2,1834.4 2745.3,1842.0C2746.3,1849.6 2747.1,1857.2 2748.3,1857.2C2749.5,1857.2 2751.1,1847.9 2752.3,1842.0C2753.5,1836.1 2754.3,1830.2 2755.4,1821.8C2756.4,1813.4 2757.4,1800.3 2758.4,1791.5C2759.4,1782.8 2760.4,1774.0 2761.4,1769.3C2762.4,1764.6 2762.4,1762.6 2764.4,1763.2C2766.5,1763.9 2770.7,1769.0 2773.5,1773.3C2776.4,1777.7 2779.3,1785.5 2781.6,1789.5C2784.0,1793.5 2785.5,1795.7 2787.7,1797.6C2789.9,1799.4 2792.4,1801.3 2794.7,1800.6C2797.1,1799.9 2799.0,1795.6 2801.8,1793.5C2804.7,1791.5 2808.9,1788.5 2811.9,1788.5C2814.9,1788.5 2818.0,1790.7 2820.0,1793.5C2822.0,1796.4 2822.4,1800.9 2824.0,1805.7C2825.7,1810.4 2828.1,1816.9 2830.1,1821.8C2832.1,1826.7 2834.1,1834.3 2836.2,1834.9C2838.2,1835.6 2840.5,1831.4 2842.2,1825.9C2843.9,1820.3 2845.1,1810.7 2846.3,1801.6C2847.4,1792.5 2848.5,1781.4 2849.3,1771.3C2850.1,1761.2 2850.6,1752.8 2851.3,1741.0C2852.0,1729.2 2852.8,1714.1 2853.3,1700.6C2853.8,1687.1 2854.1,1669.9 2854.3,1660.2C2854.6,1650.5 2854.5,1648.4 2854.9,1642.4C2855.4,1636.4 2855.9,1627.7 2856.8,1624.2C2857.7,1620.8 2859.3,1621.8 2860.4,1621.8C2861.5,1621.8 2862.3,1620.8 2863.4,1624.2C2864.6,1627.7 2866.1,1636.0 2867.5,1642.4C2868.8,1648.8 2870.0,1657.1 2871.5,1662.6C2873.0,1668.2 2874.4,1676.1 2876.6,1675.8C2878.8,1675.4 2882.0,1665.0 2884.6,1660.6C2887.3,1656.2 2890.2,1653.2 2892.7,1649.5C2895.3,1645.8 2898.1,1644.6 2899.8,1638.4C2901.5,1632.2 2901.8,1621.5 2902.8,1612.1C2903.8,1602.7 2904.8,1590.2 2905.9,1581.8C2906.9,1573.4 2907.7,1566.7 2908.9,1561.6C2910.1,1556.6 2910.9,1553.7 2912.9,1551.5C2914.9,1549.3 2918.3,1548.1 2921.0,1548.5C2923.7,1548.8 2926.9,1551.7 2929.1,1553.5C2931.3,1555.4 2932.5,1557.6 2934.1,1559.6C2935.8,1561.6 2937.7,1562.0 2939.2,1565.7C2940.7,1569.4 2942.1,1574.1 2943.2,1581.8C2944.4,1589.6 2945.4,1602.0 2946.3,1612.1C2947.1,1622.2 2947.6,1631.4 2948.3,1642.4C2949.0,1653.4 2949.8,1664.9 2950.3,1678.0C2950.8,1691.0 2950.8,1706.9 2951.3,1720.8C2951.8,1734.7 2952.5,1746.1 2953.3,1761.2C2954.2,1776.4 2955.4,1798.2 2956.4,1811.7C2957.4,1825.2 2958.0,1833.4 2959.4,1842.0C2960.7,1850.6 2962.9,1861.5 2964.4,1863.2C2966.0,1864.9 2967.3,1859.0 2968.5,1852.1C2969.7,1845.2 2970.7,1831.9 2971.5,1821.8C2972.4,1811.7 2972.7,1799.9 2973.5,1791.5C2974.4,1783.1 2975.2,1775.5 2976.6,1771.3C2977.9,1767.1 2979.9,1765.3 2981.6,1766.3C2983.3,1767.3 2985.3,1772.2 2986.7,1777.4C2988.0,1782.6 2988.5,1788.5 2989.7,1797.6C2990.9,1806.7 2992.6,1821.1 2993.7,1831.9C2994.9,1842.7 2995.8,1852.1 2996.8,1862.2C2997.8,1872.3 2999.0,1883.2 2999.8,1892.5C3000.6,1901.8 3001.3,1910.0 3001.8,1918.0C3002.4,1926.0 3002.6,1926.7 3003.0,1940.6C3003.5,1954.5 3003.6,1985.7 3004.4,2001.2C3005.3,2016.7 3006.0,2031.9 3007.9,2033.5C3009.8,2035.2 3013.6,2020.1 3016.0,2011.3C3018.3,2002.6 3020.3,1992.8 3022.0,1981.0C3023.7,1969.2 3025.1,1957.4 3026.1,1940.6C3027.1,1923.8 3027.5,1889.7 3028.1,1880.0C3028.6,1870.3 3028.9,1888.8 3029.3,1882.4C3029.7,1876.1 3030.0,1855.5 3030.3,1842.0C3030.6,1828.6 3030.8,1815.1 3031.3,1801.6C3031.8,1788.1 3032.3,1773.0 3033.1,1761.2C3033.9,1749.4 3035.0,1738.7 3036.2,1730.9C3037.3,1723.2 3038.5,1719.5 3040.2,1714.7C3041.9,1710.0 3043.9,1703.0 3046.3,1702.6C3048.6,1702.3 3051.3,1709.4 3054.3,1712.7C3057.4,1716.1 3061.4,1719.1 3064.4,1722.8C3067.5,1726.5 3070.2,1731.6 3072.5,1734.9C3074.9,1738.3 3076.9,1744.7 3078.6,1743.0C3080.3,1741.3 3081.3,1733.6 3082.6,1724.8C3084.0,1716.1 3085.7,1701.3 3086.7,1690.5C3087.7,1679.7 3088.3,1671.6 3088.7,1660.2C3089.1,1648.8 3088.8,1638.7 3089.1,1622.2C3089.4,1605.8 3089.9,1581.8 3090.7,1561.6C3091.5,1541.4 3092.7,1517.8 3093.7,1501.0C3094.7,1484.2 3095.8,1471.0 3096.8,1460.6C3097.8,1450.2 3098.6,1443.5 3099.8,1438.4C3101.0,1433.3 3102.3,1429.6 3103.8,1429.9C3105.4,1430.2 3107.5,1433.6 3108.9,1440.4C3110.2,1447.2 3110.9,1458.9 3111.9,1470.7C3112.9,1482.5 3113.9,1497.6 3114.9,1511.1C3116.0,1524.6 3117.1,1538.0 3118.0,1551.5C3118.8,1565.0 3119.2,1578.5 3120.0,1591.9C3120.8,1605.4 3122.0,1620.5 3123.0,1632.3C3124.0,1644.1 3125.1,1656.9 3126.1,1662.6C3127.1,1668.4 3127.9,1670.0 3129.1,1666.7C3130.3,1663.3 3132.1,1648.1 3133.1,1642.4C3134.1,1636.7 3134.0,1635.4 3135.2,1632.3C3136.3,1629.2 3138.4,1620.9 3140.2,1623.8C3142.1,1626.8 3144.6,1640.7 3146.3,1650.1C3147.9,1659.5 3149.0,1670.3 3150.3,1680.4C3151.6,1690.5 3153.0,1698.9 3154.3,1710.7C3155.7,1722.5 3157.0,1739.3 3158.4,1751.1C3159.7,1762.9 3161.1,1773.0 3162.4,1781.4C3163.8,1789.8 3164.8,1797.2 3166.5,1801.6C3168.1,1806.0 3170.5,1809.4 3172.5,1807.7C3174.5,1806.0 3176.9,1797.2 3178.6,1791.5C3180.3,1785.8 3181.1,1778.4 3182.6,1773.3C3184.1,1768.3 3186.2,1759.9 3187.7,1761.2C3189.2,1762.6 3190.7,1774.7 3191.7,1781.4C3192.7,1788.1 3192.9,1791.5 3193.7,1801.6C3194.6,1811.7 3195.8,1828.6 3196.8,1842.0C3197.8,1855.5 3198.6,1871.6 3199.8,1882.4C3201.0,1893.2 3202.3,1906.7 3203.8,1906.7C3205.4,1906.7 3207.5,1893.2 3208.9,1882.4C3210.2,1871.6 3211.1,1855.5 3211.9,1842.0C3212.8,1828.6 3213.3,1815.1 3213.9,1801.6C3214.6,1788.1 3214.9,1771.6 3216.0,1761.2C3217.0,1750.8 3218.5,1739.0 3220.0,1739.0C3221.5,1739.0 3223.5,1752.5 3225.1,1761.2C3226.6,1770.0 3227.2,1782.3 3229.1,1791.5C3230.9,1800.8 3233.8,1815.8 3236.2,1816.8C3238.5,1817.8 3241.5,1806.8 3243.2,1797.6C3244.9,1788.3 3245.4,1774.0 3246.3,1761.2C3247.1,1748.4 3247.6,1734.3 3248.3,1720.8C3249.0,1707.3 3249.3,1693.5 3250.3,1680.4C3251.3,1667.3 3252.8,1652.8 3254.3,1642.4C3255.9,1632.1 3257.3,1624.4 3259.4,1618.2C3261.5,1612.0 3264.7,1605.1 3267.1,1605.1C3269.4,1605.1 3272.0,1612.0 3273.5,1618.2C3275.1,1624.4 3275.6,1632.5 3276.6,1642.4C3277.6,1652.4 3278.8,1667.6 3279.6,1678.0C3280.4,1688.4 3280.3,1696.8 3281.6,1704.6C3283.0,1712.5 3285.3,1720.8 3287.7,1724.8C3290.0,1728.9 3293.1,1729.6 3295.8,1728.9C3298.5,1728.2 3301.8,1725.5 3303.8,1720.8C3305.9,1716.1 3307.0,1709.0 3307.9,1700.6C3308.8,1692.2 3308.8,1686.7 3309.1,1670.3C3309.4,1653.9 3309.6,1623.5 3309.9,1602.0C3310.2,1580.5 3310.2,1559.9 3310.9,1541.4C3311.6,1522.9 3312.8,1502.7 3313.9,1490.9C3315.1,1479.1 3316.5,1475.2 3318.0,1470.7C3319.4,1466.3 3320.9,1462.6 3322.6,1464.2C3324.3,1465.9 3326.7,1471.3 3328.1,1480.8C3329.5,1490.3 3330.3,1504.4 3331.1,1521.2C3332.0,1538.0 3332.3,1563.3 3333.1,1581.8C3334.0,1600.3 3335.3,1616.3 3336.2,1632.3C3337.0,1648.4 3337.5,1663.2 3338.2,1678.0C3338.9,1692.7 3339.4,1706.9 3340.2,1720.8C3341.0,1734.7 3342.1,1746.1 3343.2,1761.2C3344.4,1776.4 3345.9,1794.9 3347.3,1811.7C3348.6,1828.6 3350.1,1847.1 3351.3,1862.2C3352.5,1877.4 3353.6,1892.9 3354.3,1902.6C3355.1,1912.3 3355.2,1911.4 3356.0,1920.4C3356.7,1929.4 3357.5,1948.5 3358.8,1956.8C3360.0,1965.0 3362.2,1970.9 3363.4,1969.9C3364.7,1968.9 3365.8,1960.6 3366.5,1950.7C3367.2,1940.8 3367.3,1921.7 3367.7,1910.3C3368.0,1898.9 3368.4,1893.8 3368.7,1882.4C3369.0,1871.0 3369.4,1855.5 3369.7,1842.0C3370.0,1828.6 3370.2,1815.1 3370.7,1801.6C3371.2,1788.1 3371.7,1773.0 3372.5,1761.2C3373.3,1749.4 3373.9,1738.3 3375.6,1730.9C3377.2,1723.5 3380.1,1716.8 3382.6,1716.8C3385.2,1716.8 3388.5,1723.5 3390.7,1730.9C3392.9,1738.3 3394.2,1751.1 3395.8,1761.2C3397.3,1771.3 3398.5,1781.4 3399.8,1791.5C3401.1,1801.6 3402.5,1810.0 3403.8,1821.8C3405.2,1833.6 3406.7,1848.8 3407.9,1862.2C3409.1,1875.7 3410.1,1892.9 3410.9,1902.6C3411.7,1912.3 3411.9,1909.0 3412.7,1920.4C3413.5,1931.8 3414.6,1959.0 3415.8,1970.9C3416.9,1982.9 3418.2,1992.1 3419.6,1992.1C3421.0,1992.1 3423.0,1981.2 3424.0,1970.9C3425.1,1960.6 3425.4,1939.3 3426.1,1930.5C3426.8,1921.7 3427.6,1926.0 3428.3,1918.0C3429.0,1910.0 3429.5,1895.1 3430.1,1882.4C3430.7,1869.8 3431.6,1855.5 3432.1,1842.0C3432.7,1828.6 3432.8,1815.1 3433.3,1801.6C3433.8,1788.1 3434.3,1774.7 3435.2,1761.2C3436.0,1747.7 3437.2,1734.3 3438.2,1720.8C3439.2,1707.3 3440.4,1693.5 3441.2,1680.4C3442.1,1667.3 3442.1,1655.5 3443.2,1642.4C3444.4,1629.4 3446.9,1612.8 3448.3,1602.0C3449.6,1591.2 3450.1,1583.0 3451.3,1577.8C3452.5,1572.6 3453.7,1571.0 3455.4,1570.7C3457.0,1570.4 3459.9,1570.5 3461.4,1575.8C3462.9,1581.0 3463.4,1590.9 3464.4,1602.0C3465.5,1613.1 3466.5,1629.8 3467.5,1642.4C3468.5,1655.1 3469.7,1666.6 3470.5,1678.0C3471.3,1689.4 3471.7,1698.5 3472.5,1710.7C3473.4,1722.9 3474.5,1740.0 3475.6,1751.1C3476.6,1762.2 3477.2,1771.8 3478.6,1777.4C3479.9,1782.9 3481.8,1785.5 3483.6,1784.4C3485.5,1783.4 3488.2,1778.6 3489.7,1771.3C3491.2,1764.1 3491.9,1752.8 3492.7,1741.0C3493.6,1729.2 3494.2,1720.4 3494.7,1700.6C3495.3,1680.8 3495.6,1643.7 3496.2,1622.2C3496.7,1600.7 3497.2,1588.6 3498.2,1571.7C3499.1,1554.9 3500.4,1535.4 3501.8,1521.2C3503.3,1507.1 3505.1,1494.3 3506.9,1486.9C3508.6,1479.4 3510.3,1475.7 3512.3,1476.4C3514.3,1477.0 3517.2,1481.8 3519.0,1490.9C3520.8,1500.1 3521.9,1516.2 3523.0,1531.3C3524.2,1546.5 3525.1,1565.0 3526.1,1581.8C3527.1,1598.7 3528.1,1616.3 3529.1,1632.3C3530.1,1648.4 3531.4,1663.2 3532.1,1678.0C3532.8,1692.7 3532.8,1706.9 3533.1,1720.8C3533.5,1734.7 3533.6,1747.7 3534.1,1761.2C3534.6,1774.7 3535.3,1789.8 3536.2,1801.6C3537.0,1813.4 3537.8,1824.2 3539.2,1831.9C3540.5,1839.7 3542.2,1848.1 3544.2,1848.1C3546.3,1848.1 3548.5,1831.9 3551.3,1831.9C3554.2,1831.9 3558.7,1849.8 3561.4,1848.1C3564.1,1846.4 3566.1,1832.9 3567.5,1821.8C3568.8,1810.7 3568.8,1794.9 3569.5,1781.4C3570.2,1767.9 3571.0,1754.5 3571.5,1741.0C3572.1,1727.5 3572.2,1714.1 3572.7,1700.6C3573.2,1687.1 3573.4,1670.4 3574.5,1660.2C3575.7,1650.0 3577.6,1636.4 3579.6,1639.4C3581.6,1642.4 3585.2,1664.4 3586.7,1678.0C3588.2,1691.5 3587.8,1706.9 3588.7,1720.8C3589.5,1734.7 3590.7,1747.7 3591.7,1761.2C3592.7,1774.7 3593.2,1789.8 3594.7,1801.6C3596.3,1813.4 3598.8,1821.8 3600.8,1831.9C3602.8,1842.0 3605.4,1852.1 3606.9,1862.2C3608.4,1872.3 3609.0,1881.1 3609.9,1892.5C3610.8,1903.9 3611.6,1915.8 3612.3,1930.5C3613.0,1945.3 3613.2,1964.2 3613.9,1981.0C3614.6,1997.8 3615.4,2020.2 3616.6,2031.5C3617.7,2042.8 3619.1,2047.0 3621.0,2048.7C3622.9,2050.4 3626.2,2049.5 3628.1,2041.6C3629.9,2033.7 3630.9,2016.4 3632.1,2001.2C3633.3,1986.1 3634.0,1969.2 3635.2,1950.7C3636.3,1932.2 3638.5,1914.9 3639.2,1890.1C3639.9,1865.3 3639.0,1826.5 3639.2,1801.6C3639.4,1776.8 3639.9,1761.2 3640.2,1741.0C3640.5,1720.8 3640.9,1700.2 3641.2,1680.4C3641.5,1660.6 3641.7,1638.7 3642.2,1622.2C3642.7,1605.8 3642.9,1591.4 3644.2,1581.8C3645.6,1572.2 3648.4,1564.6 3650.3,1564.6C3652.3,1564.6 3654.7,1572.2 3656.0,1581.8C3657.2,1591.4 3657.2,1612.5 3657.6,1622.2C3658.0,1631.9 3658.1,1626.9 3658.4,1640.0C3658.7,1653.1 3659.1,1680.4 3659.4,1700.6C3659.7,1720.8 3659.9,1741.0 3660.4,1761.2C3660.9,1781.4 3661.6,1803.3 3662.4,1821.8C3663.3,1840.3 3664.4,1856.3 3665.5,1872.3C3666.5,1888.4 3667.2,1908.1 3668.5,1918.0C3669.7,1927.8 3671.8,1931.5 3672.9,1931.5C3674.1,1931.5 3674.7,1926.2 3675.6,1918.0C3676.4,1909.8 3677.3,1891.4 3678.2,1882.4C3679.0,1873.5 3679.7,1867.6 3680.6,1864.2C3681.5,1860.9 3682.3,1860.9 3683.6,1862.2C3685.0,1863.6 3687.2,1875.7 3688.7,1872.3C3690.2,1869.0 3691.4,1857.2 3692.7,1842.0C3694.1,1826.9 3695.8,1801.6 3696.8,1781.4C3697.8,1761.2 3698.1,1741.0 3698.8,1720.8C3699.5,1700.6 3700.3,1680.0 3700.8,1660.2C3701.3,1640.4 3701.4,1621.8 3701.8,1602.0C3702.2,1582.2 3702.6,1558.2 3703.2,1541.4C3703.9,1524.6 3704.7,1510.3 3705.9,1501.0C3707.0,1491.8 3708.8,1485.9 3710.3,1485.9C3711.8,1485.9 3713.8,1491.8 3714.9,1501.0C3716.1,1510.3 3716.4,1524.6 3717.0,1541.4C3717.5,1558.2 3718.0,1585.6 3718.4,1602.0C3718.8,1618.5 3718.8,1625.3 3719.4,1640.0C3720.0,1654.7 3721.1,1673.7 3722.0,1690.5C3723.0,1707.3 3723.7,1724.2 3725.1,1741.0C3726.4,1757.8 3728.4,1774.7 3730.1,1791.5C3731.8,1808.4 3733.6,1826.9 3735.2,1842.0C3736.7,1857.2 3738.0,1869.8 3739.2,1882.4C3740.4,1895.1 3741.2,1909.0 3742.2,1918.0C3743.2,1927.0 3744.2,1932.6 3745.3,1936.6C3746.3,1940.5 3747.5,1941.6 3748.3,1941.6C3749.1,1941.6 3749.7,1940.5 3750.1,1936.6C3750.5,1932.6 3750.5,1930.4 3750.9,1918.0C3751.3,1905.6 3752.1,1881.6 3752.7,1862.2C3753.3,1842.8 3753.9,1821.8 3754.5,1801.6C3755.2,1781.4 3755.8,1761.2 3756.4,1741.0C3756.9,1720.8 3757.4,1703.6 3757.8,1680.4C3758.1,1657.2 3758.4,1625.2 3758.6,1602.0C3758.8,1578.9 3758.9,1561.6 3759.2,1541.4C3759.5,1521.2 3759.7,1499.3 3760.4,1480.8C3761.1,1462.3 3762.3,1441.3 3763.4,1430.3C3764.6,1419.3 3766.0,1414.5 3767.5,1414.5C3769.0,1414.5 3771.2,1422.6 3772.5,1430.3C3773.9,1438.0 3774.7,1448.8 3775.6,1460.6C3776.4,1472.4 3776.9,1485.9 3777.6,1501.0C3778.2,1516.2 3778.8,1534.7 3779.6,1551.5C3780.4,1568.4 3781.4,1586.9 3782.6,1602.0C3783.8,1617.2 3785.2,1629.8 3786.7,1642.4C3788.2,1655.1 3790.5,1664.9 3791.7,1678.0C3792.9,1691.0 3793.1,1706.9 3793.7,1720.8C3794.4,1734.7 3795.1,1747.7 3795.8,1761.2C3796.4,1774.7 3796.9,1788.1 3797.8,1801.6C3798.6,1815.1 3799.8,1830.2 3800.8,1842.0C3801.8,1853.8 3802.7,1866.4 3803.8,1872.3C3805.0,1878.2 3806.4,1879.1 3807.9,1877.4C3809.4,1875.7 3811.8,1871.5 3812.9,1862.2C3814.1,1853.0 3814.3,1835.3 3814.9,1821.8C3815.6,1808.4 3816.3,1794.9 3817.0,1781.4C3817.6,1767.9 3818.1,1751.8 3819.0,1741.0C3819.8,1730.2 3820.7,1722.0 3822.0,1716.8C3823.4,1711.5 3825.2,1707.3 3827.1,1709.7C3828.9,1712.1 3831.4,1724.0 3833.1,1730.9C3834.8,1737.8 3836.0,1744.4 3837.2,1751.1C3838.4,1757.8 3839.4,1763.6 3840.2,1771.3C3841.0,1779.1 3841.4,1791.2 3842.2,1797.6C3843.1,1804.0 3842.6,1807.3 3845.3,1809.7C3847.9,1812.1 3855.2,1809.7 3858.4,1811.7C3861.6,1813.7 3862.8,1816.8 3864.4,1821.8C3866.1,1826.9 3867.1,1836.0 3868.5,1842.0C3869.8,1848.1 3871.2,1855.0 3872.5,1858.2C3873.9,1861.4 3874.9,1862.2 3876.6,1861.2C3878.2,1860.2 3880.9,1858.7 3882.6,1852.1C3884.3,1845.6 3885.5,1833.6 3886.7,1821.8C3887.8,1810.0 3888.7,1794.9 3889.7,1781.4C3890.7,1767.9 3891.7,1754.5 3892.7,1741.0C3893.7,1727.5 3894.7,1714.1 3895.8,1700.6C3896.8,1687.1 3897.8,1669.9 3898.8,1660.2C3899.8,1650.5 3900.8,1652.1 3901.8,1642.4C3902.8,1632.7 3903.7,1613.1 3904.8,1602.0C3906.0,1590.9 3907.4,1581.0 3908.9,1575.8C3910.4,1570.5 3912.3,1570.7 3913.9,1570.7C3915.6,1570.7 3917.6,1570.5 3919.0,1575.8C3920.3,1581.0 3921.0,1590.9 3922.0,1602.0C3923.0,1613.1 3924.0,1629.8 3925.1,1642.4C3926.1,1655.1 3927.2,1664.9 3928.1,1678.0C3928.9,1691.0 3929.3,1706.9 3930.1,1720.8C3930.9,1734.7 3932.0,1747.7 3933.1,1761.2C3934.3,1774.7 3935.7,1790.8 3937.2,1801.6C3938.7,1812.4 3940.5,1820.6 3942.2,1825.9C3943.9,1831.1 3945.6,1833.6 3947.3,1832.9C3949.0,1832.3 3951.0,1830.4 3952.3,1821.8C3953.7,1813.2 3954.5,1794.9 3955.4,1781.4C3956.2,1767.9 3956.9,1754.5 3957.4,1741.0C3957.9,1727.5 3958.0,1714.1 3958.4,1700.6C3958.7,1687.1 3959.0,1669.9 3959.4,1660.2C3959.8,1650.5 3960.1,1652.1 3960.6,1642.4C3961.1,1632.7 3961.6,1612.8 3962.4,1602.0C3963.2,1591.2 3964.3,1582.9 3965.5,1577.8C3966.6,1572.7 3968.0,1570.6 3969.5,1571.3C3971.0,1572.0 3973.4,1573.3 3974.5,1581.8C3975.7,1590.3 3975.9,1608.8 3976.6,1622.2C3977.2,1635.7 3978.0,1651.2 3978.6,1662.6C3979.2,1674.0 3979.5,1680.8 3980.0,1690.5C3980.5,1700.2 3981.0,1709.0 3981.6,1720.8C3982.2,1732.6 3982.8,1747.7 3983.6,1761.2C3984.5,1774.7 3985.5,1788.1 3986.7,1801.6C3987.8,1815.1 3989.2,1832.6 3990.7,1842.0C3992.2,1851.4 3994.1,1854.5 3995.8,1858.2C3997.4,1861.9 3999.1,1865.3 4000.8,1864.2C4002.5,1863.2 4004.5,1859.2 4005.9,1852.1C4007.2,1845.1 4008.0,1833.6 4008.9,1821.8C4009.7,1810.0 4010.2,1793.2 4010.9,1781.4C4011.6,1769.6 4011.8,1758.9 4012.9,1751.1C4014.1,1743.4 4015.8,1739.0 4018.0,1734.9C4020.2,1730.9 4023.7,1730.9 4026.1,1726.9C4028.4,1722.8 4030.4,1716.4 4032.1,1710.7C4033.8,1705.0 4034.1,1696.9 4036.2,1692.5C4038.2,1688.1 4041.9,1683.1 4044.2,1684.4C4046.6,1685.8 4048.8,1693.9 4050.3,1700.6C4051.8,1707.3 4052.0,1719.1 4053.3,1724.8C4054.7,1730.6 4056.7,1735.6 4058.4,1734.9C4060.1,1734.3 4062.3,1728.2 4063.4,1720.8C4064.6,1713.4 4064.3,1698.2 4065.5,1690.5C4066.6,1682.8 4068.7,1674.7 4070.5,1674.7C4072.4,1674.7 4075.1,1682.8 4076.6,1690.5C4078.1,1698.2 4078.6,1711.4 4079.6,1720.8C4080.6,1730.2 4081.1,1741.0 4082.6,1747.1C4084.1,1753.1 4087.0,1759.9 4088.7,1757.2C4090.4,1754.5 4091.9,1742.0 4092.7,1730.9C4093.6,1719.8 4093.5,1702.3 4093.9,1690.5C4094.3,1678.7 4094.6,1666.5 4095.2,1660.2C4095.7,1653.9 4095.7,1655.8 4097.2,1652.5C4098.6,1649.2 4101.7,1640.4 4103.8,1640.4C4106.0,1640.4 4108.6,1646.3 4109.9,1652.5C4111.2,1658.8 4111.4,1666.6 4111.9,1678.0C4112.4,1689.4 4112.6,1706.9 4112.9,1720.8C4113.3,1734.7 4113.4,1747.7 4113.9,1761.2C4114.4,1774.7 4114.9,1789.8 4116.0,1801.6C4117.0,1813.4 4118.1,1825.0 4120.0,1831.9C4121.9,1838.8 4124.7,1842.7 4127.1,1843.0C4129.4,1843.4 4132.1,1840.2 4134.1,1833.9C4136.2,1827.7 4137.2,1822.8 4139.2,1805.7C4141.2,1788.5 4144.4,1747.4 4146.2,1730.9C4148.1,1714.4 4148.7,1711.7 4150.3,1706.7C4151.8,1701.6 4153.6,1699.6 4155.3,1700.6C4157.0,1701.6 4158.5,1709.0 4160.4,1712.7C4162.2,1716.4 4164.4,1723.8 4166.4,1722.8C4168.4,1721.8 4170.6,1711.5 4172.5,1706.7C4174.3,1701.8 4175.8,1696.2 4177.5,1693.5C4179.2,1690.8 4180.9,1689.3 4182.6,1690.5C4184.3,1691.7 4186.3,1695.6 4187.6,1700.6C4189.0,1705.7 4189.6,1714.7 4190.7,1720.8C4191.7,1726.9 4192.0,1733.6 4193.7,1737.0C4195.4,1740.3 4198.4,1738.7 4200.8,1741.0C4203.1,1743.4 4205.3,1747.9 4207.8,1751.1C4210.4,1754.3 4213.6,1761.9 4215.9,1760.2C4218.3,1758.5 4220.6,1749.3 4222.0,1741.0C4223.3,1732.8 4223.1,1720.8 4224.0,1710.7C4224.8,1700.6 4225.8,1689.5 4227.0,1680.4C4228.2,1671.3 4229.4,1662.7 4231.1,1656.2C4232.7,1649.7 4234.4,1642.0 4237.1,1641.4C4239.8,1640.8 4244.5,1648.0 4247.2,1652.5C4249.9,1657.1 4251.6,1664.4 4253.3,1668.7C4255.0,1672.9 4256.1,1672.7 4257.3,1678.0C4258.5,1683.3 4259.3,1692.8 4260.4,1700.6C4261.4,1708.4 4262.2,1718.8 4263.4,1724.8C4264.6,1730.9 4266.2,1734.3 4267.4,1737.0C4268.6,1739.7 4269.3,1742.0 4270.5,1741.0C4271.6,1740.0 4273.5,1737.6 4274.5,1730.9C4275.5,1724.2 4275.8,1712.4 4276.5,1700.6C4277.2,1688.8 4278.0,1669.9 4278.5,1660.2C4279.1,1650.5 4279.4,1650.4 4279.9,1642.4C4280.5,1634.4 4281.0,1620.5 4282.0,1612.1C4282.9,1603.7 4283.5,1596.1 4285.6,1591.9C4287.7,1587.7 4292.3,1587.2 4294.7,1586.9C4297.1,1586.5 4298.2,1585.7 4299.7,1589.9C4301.3,1594.1 4302.4,1603.4 4303.8,1612.1C4305.1,1620.9 4306.1,1631.4 4307.8,1642.4C4309.5,1653.4 4312.2,1668.3 4313.9,1678.0C4315.6,1687.7 4316.4,1692.8 4317.9,1700.6C4319.4,1708.4 4321.5,1716.4 4323.0,1724.8C4324.5,1733.3 4325.7,1742.4 4327.0,1751.1C4328.4,1759.9 4329.7,1771.0 4331.1,1777.4C4332.4,1783.8 4333.8,1787.1 4335.1,1789.5C4336.4,1791.9 4337.6,1793.2 4339.1,1791.5C4340.7,1789.8 4342.3,1783.4 4344.2,1779.4C4346.0,1775.4 4348.4,1767.6 4350.3,1767.3C4352.1,1766.9 4354.0,1773.3 4355.3,1777.4C4356.6,1781.4 4357.3,1784.1 4358.3,1791.5C4359.3,1798.9 4360.5,1811.7 4361.4,1821.8C4362.2,1831.9 4362.7,1842.0 4363.4,1852.1C4364.1,1862.2 4364.6,1874.0 4365.4,1882.4C4366.2,1890.8 4367.3,1896.3 4368.4,1902.6C4369.6,1909.0 4371.1,1915.1 4372.5,1920.4C4373.8,1925.7 4375.1,1934.5 4376.5,1934.5C4377.9,1934.5 4379.8,1925.7 4381.0,1920.4C4382.1,1915.1 4382.8,1912.3 4383.6,1902.6C4384.4,1892.9 4385.0,1874.0 4385.6,1862.2C4386.2,1850.4 4386.3,1840.3 4387.0,1831.9C4387.7,1823.5 4388.4,1816.4 4389.6,1811.7C4390.9,1807.0 4392.5,1806.0 4394.7,1803.6C4396.9,1801.3 4400.8,1801.3 4402.8,1797.6C4404.8,1793.9 4405.6,1789.2 4406.8,1781.4C4408.0,1773.7 4408.8,1761.2 4409.8,1751.1C4410.9,1741.0 4411.9,1732.6 4412.9,1720.8C4413.9,1709.0 4414.6,1691.8 4415.9,1680.4C4417.3,1669.0 4419.6,1662.2 4421.0,1652.5C4422.3,1642.8 4422.8,1631.3 4424.0,1622.2C4425.2,1613.1 4426.2,1603.3 4428.0,1598.0C4429.9,1592.7 4432.9,1590.3 4435.1,1590.5C4437.3,1590.7 4439.5,1593.7 4441.2,1599.0C4442.8,1604.3 4443.6,1613.3 4444.8,1622.2C4446.0,1631.1 4447.2,1644.2 4448.2,1652.5C4449.3,1660.8 4449.9,1667.4 4451.0,1672.0C4452.1,1676.6 4453.5,1681.3 4455.0,1680.0C4456.5,1678.7 4458.5,1672.3 4460.0,1664.0C4461.5,1655.7 4462.7,1641.0 4464.0,1630.0C4465.3,1619.0 4466.8,1605.8 4468.0,1598.0C4469.2,1590.2 4470.9,1585.5 4471.5,1583.0"/>
<path class="b" d="M2790.9,1597.4L2794.5,1638.9M2785.3,1610.7L2786.0,1615.6M2826.4,1626.7L2831.8,1664.2M2821.6,1654.1L2822.4,1659.0M2905.4,1617.8L2913.4,1584.3M2916.2,1549.0L2916.9,1554.0M2922.2,1537.8L2924.9,1579.3M2924.7,1610.7L2925.4,1615.6M3098.0,1576.9L3104.8,1569.3L3110.9,1589.9L3118.0,1595.4M3096.6,1610.6L3093.9,1653.1M3120.2,1628.8L3122.9,1671.2M2638.2,1732.2L2644.2,1744.8M2645.9,1710.3L2646.6,1715.2M2651.1,1681.8L2660.6,1708.4M2663.1,1737.5L2663.8,1742.5M2671.3,1710.2L2668.3,1753.7M2677.3,1659.7L2679.5,1703.2M2671.8,1674.9L2672.5,1679.8M2680.2,1733.5L2681.0,1738.4M2689.9,1713.3L2690.7,1718.2M2686.2,1747.5L2682.1,1767.9M2695.0,1740.5L2698.8,1781.4L2703.7,1784.2M2716.3,1720.2L2707.6,1749.7M2723.7,1735.5L2724.4,1740.5M2731.9,1671.8L2728.3,1705.2M2747.5,1659.7L2752.1,1703.2M2740.8,1680.0L2741.6,1684.9M2752.4,1733.5L2753.1,1738.4M2754.6,1769.8L2758.2,1813.3M2764.1,1828.4L2764.8,1833.4M2775.2,1755.6L2769.8,1799.1M2778.6,1720.8L2779.4,1725.7M2783.1,1647.5L2780.7,1690.0M2797.0,1669.9L2797.7,1674.8M2801.6,1704.1L2804.7,1747.6M2805.5,1777.9L2806.2,1782.9M2814.6,1799.9L2809.3,1812.4M2816.6,1763.8L2817.3,1768.7M2820.9,1691.0L2818.1,1733.5M2833.4,1695.1L2834.1,1700.0M2838.4,1729.8L2844.2,1719.8L2847.3,1725.9L2858.9,1727.5M2871.8,1690.0L2876.7,1732.5M2865.7,1705.2L2866.4,1710.1M2877.6,1762.8L2878.4,1767.7M2880.1,1799.1L2881.5,1841.5M2882.3,1871.9L2883.0,1876.8M2895.8,1866.8L2896.5,1871.8M2898.7,1794.0L2896.5,1835.5M2898.8,1757.7L2899.6,1762.7M2901.7,1683.9L2899.9,1726.4M2902.9,1647.6L2903.6,1652.6M2927.1,1646.5L2928.0,1689.0M2928.3,1719.3L2929.1,1724.3M2930.8,1755.5L2936.5,1776.0M2946.9,1749.6L2947.6,1754.6M2956.1,1677.8L2951.2,1719.3M2967.1,1665.8L2967.8,1670.8M2973.3,1686.9L2975.4,1729.4M2976.2,1760.8L2976.9,1765.7M2977.8,1796.0L2981.4,1838.5M2986.3,1820.4L2987.0,1825.3M2989.2,1747.5L2987.8,1790.0M2990.3,1712.3L2991.1,1717.2M2993.9,1682.6L2998.6,1691.3M3001.4,1722.4L3002.2,1727.3M3018.4,1703.0L3011.5,1733.5M3024.7,1723.4L3025.4,1728.3M3028.1,1759.7L3029.0,1802.1M3029.7,1832.5L3030.5,1837.4M3037.2,1853.4L3032.1,1866.0M3037.8,1817.3L3038.6,1822.3M3041.7,1743.5L3040.3,1787.0M3044.9,1708.2L3045.6,1713.2M3050.1,1735.6L3056.5,1741.4M3072.5,1690.7L3061.5,1713.5M3077.8,1663.8L3078.6,1668.7M3084.8,1697.0L3089.7,1718.4M3091.3,1685.0L3092.1,1689.9M3122.7,1702.2L3123.4,1707.1M3125.1,1737.4L3126.0,1780.9M3127.1,1811.3L3127.8,1816.2M3128.8,1846.5L3130.0,1890.0M2884.8,1907.1L2886.6,1950.2M2895.7,1903.1L2893.8,1946.2M2889.9,1975.5L2890.7,1980.5M3131.1,1920.0L3131.9,1924.9M3133.3,1957.2L3137.0,1998.7M3137.8,2030.1L3138.6,2035.0M3176.7,1582.5L3168.3,1590.2M3161.0,1614.1L3161.8,1619.0M3180.2,1610.7L3181.0,1615.6M3231.0,1650.8L3236.3,1665.3M3348.5,1522.6L3350.3,1529.3L3355.0,1566.2M3344.1,1557.0L3342.0,1597.5M3356.0,1597.5L3356.7,1602.5M3339.2,1629.4L3340.0,1634.4M3462.1,1653.1L3462.8,1658.0M3496.4,1596.5L3497.1,1601.5M3503.0,1606.5L3506.1,1648.0M3578.4,1511.6L3582.0,1553.1M3574.2,1535.9L3574.9,1540.9M3574.0,1573.2L3571.7,1613.7M3583.3,1584.4L3584.0,1589.3M3585.3,1621.7L3586.6,1662.1M3159.2,1649.6L3156.5,1693.1M3156.0,1723.4L3156.7,1728.3M3154.3,1758.7L3153.4,1802.1M3152.0,1832.5L3152.7,1837.4M3151.2,1868.8L3150.0,1911.2M3183.1,1647.5L3184.9,1690.0M3185.3,1720.4L3186.0,1725.3M3187.9,1755.6L3191.7,1799.6L3196.0,1803.9M3202.7,1731.4L3200.0,1772.9M3209.5,1720.4L3210.3,1725.3M3222.9,1707.1L3217.5,1733.5M3225.7,1671.9L3226.4,1676.8M3237.8,1696.1L3238.6,1701.1M3240.9,1732.4L3242.1,1774.9M3252.8,1734.4L3250.4,1776.9M3245.3,1803.6L3246.0,1808.5M3254.6,1699.1L3255.3,1704.1M3262.7,1653.5L3258.1,1667.9M3277.8,1644.5L3280.8,1686.0M3270.1,1667.4L3270.9,1672.4M3282.3,1717.3L3283.0,1722.3M3284.4,1753.6L3287.7,1797.6L3291.2,1797.6M3296.6,1764.9L3302.0,1769.7M3307.5,1783.4L3308.2,1788.3M3314.3,1816.2L3320.0,1861.2L3327.6,1851.1M3332.0,1774.8L3330.6,1817.3M3333.8,1738.5L3334.5,1743.5M3337.4,1664.7L3335.3,1707.2M3358.5,1636.4L3359.9,1675.9M3370.7,1683.4L3365.5,1690.5M3360.4,1707.8L3361.2,1712.8M3372.2,1713.3L3372.9,1718.2M3373.7,1748.6L3376.4,1791.0M3382.3,1763.8L3383.0,1768.7M3390.2,1781.8L3396.2,1810.3M3403.1,1785.0L3403.8,1789.9M3410.0,1712.2L3405.1,1754.7M3415.6,1691.1L3416.3,1696.0M3423.3,1691.0L3427.2,1732.5M3441.9,1726.4L3442.6,1731.4M3451.8,1667.7L3445.4,1696.1M3462.1,1653.3L3462.8,1658.2M3466.2,1685.9L3467.8,1728.4M3469.7,1758.7L3470.5,1763.7M3473.0,1794.8L3480.1,1795.3M3486.7,1769.9L3487.4,1774.8M3491.6,1697.0L3489.4,1739.5M3493.7,1634.4L3492.4,1676.9M3507.5,1680.0L3508.2,1684.9M3510.1,1716.2L3513.7,1752.7M3521.6,1736.5L3522.4,1741.5M3526.7,1771.1L3533.5,1778.6M3541.9,1763.8L3542.6,1768.7M3550.5,1764.7L3554.1,1806.2M3565.1,1792.0L3558.7,1835.5M3557.0,1839.5L3557.7,1844.5M3566.1,1754.7L3566.8,1759.6M3568.8,1681.9L3568.1,1724.4M3570.1,1645.6L3570.9,1650.6M3588.3,1693.1L3589.1,1698.0M3594.2,1715.2L3600.4,1748.7M3610.9,1728.4L3611.7,1733.4M3616.4,1655.6L3613.1,1697.1M3622.7,1673.9L3623.4,1678.8M3625.4,1708.1L3630.8,1749.6M3634.4,1781.0L3635.1,1785.9M3636.4,1817.2L3640.6,1859.7M3609.7,1764.7L3606.1,1806.2M3602.5,1781.0L3603.2,1785.9M3148.3,1942.2L3149.1,1947.1M3147.1,1977.4L3144.4,2020.9M3737.4,1415.3L3738.1,1420.3M3735.0,1443.9L3731.9,1488.4M3742.7,1448.0L3743.6,1492.5M3729.7,1518.3L3730.5,1523.3M3744.9,1522.4L3745.6,1527.3M3726.8,1554.0L3722.3,1597.5M3747.4,1557.0L3750.2,1601.5M3720.0,1627.4L3720.8,1632.4M3750.3,1631.5L3751.1,1636.4M3668.7,1515.7L3669.5,1520.7M3673.1,1527.7L3676.0,1570.2M3666.4,1552.0L3665.5,1595.5M3677.2,1601.6L3677.9,1606.5M3663.1,1625.8L3663.8,1630.8M3880.7,1640.0L3872.4,1646.9M3987.9,1653.1L3988.7,1658.0M4013.2,1632.9L4013.9,1637.8M4125.3,1618.7L4126.0,1623.7M3659.2,1769.8L3656.5,1815.3M3647.9,1819.3L3648.7,1824.3M3662.8,1661.7L3661.5,1705.2M3660.4,1735.1L3661.2,1740.0M3681.0,1636.8L3687.3,1680.0M3689.9,1710.3L3690.7,1715.2M3692.4,1746.5L3694.6,1791.0M3695.4,1820.4L3696.1,1825.3M3697.9,1855.6L3700.7,1899.1M3719.5,1663.1L3718.6,1706.2M3717.2,1736.5L3717.9,1741.5M3717.3,1771.8L3715.5,1816.3M3714.6,1846.6L3715.3,1851.6M3713.9,1881.9L3713.0,1924.0M3751.8,1666.1L3753.3,1711.2M3754.6,1741.6L3755.3,1746.5M3756.0,1775.8L3757.3,1819.3M3757.6,1849.6L3758.4,1854.6M3759.1,1884.9L3761.3,1928.0M3770.1,1893.1L3770.9,1898.0M3775.4,1819.3L3772.7,1862.8M3779.8,1801.2L3780.6,1806.1M3789.1,1733.4L3786.2,1778.9M3791.3,1698.1L3792.1,1703.1M3794.3,1669.6L3800.5,1685.2M3803.1,1714.3L3803.8,1719.2M3810.0,1735.3L3821.9,1742.7M3827.7,1711.3L3828.5,1716.2M3836.9,1704.8L3845.1,1720.6M3848.9,1687.0L3849.7,1692.0M3854.5,1658.6L3861.9,1693.1M3868.1,1675.9L3868.9,1680.9M3883.3,1669.9L3884.0,1674.8M3885.4,1705.1L3888.1,1748.6M3888.9,1778.9L3889.7,1783.9M3899.9,1805.2L3891.6,1812.1M3902.5,1780.0L3903.2,1784.9M3909.0,1761.6L3916.4,1795.1M3924.4,1766.7L3919.2,1819.3M3925.7,1731.5L3926.4,1736.4M3931.9,1658.6L3927.3,1700.1M3940.8,1670.9L3941.6,1675.8M3947.0,1704.0L3955.6,1732.6M3957.4,1762.8L3958.1,1767.7M3971.0,1769.8L3969.6,1813.3M3959.5,1800.1L3961.3,1839.5M3966.7,1844.6L3967.4,1849.5M3972.8,1733.5L3973.5,1738.4M3983.6,1683.8L3976.2,1709.3M3988.3,1651.7L3989.1,1656.6M4009.2,1666.1L3996.4,1680.6M4020.5,1646.5L4029.6,1687.1M4029.7,1717.3L4030.5,1722.3M4030.8,1752.6L4033.0,1796.1M4034.2,1825.4L4034.9,1830.4M4041.0,1844.4L4035.9,1859.8M4045.9,1807.2L4046.6,1812.2M4048.5,1814.2L4052.1,1852.7M4056.0,1820.4L4056.7,1825.3M4059.3,1746.5L4057.5,1790.0M4060.0,1713.3L4060.8,1718.2M4079.1,1674.8L4070.0,1715.3M4087.3,1680.0L4088.0,1684.9M4089.9,1716.2L4093.5,1758.7M4102.5,1765.8L4103.2,1770.8M4111.8,1741.5L4109.0,1785.0M4113.6,1706.2L4114.3,1711.2M4118.4,1631.8L4116.1,1674.9M3700.8,1929.6L3701.6,1934.6M3712.2,1955.3L3712.9,1960.3M3702.6,1966.3L3704.7,2006.8M3712.2,1991.6L3707.2,2028.0M3770.2,1930.0L3765.7,1971.5M3760.4,1959.3L3761.2,1964.3M4247.0,1529.8L4243.4,1573.3M4252.9,1535.9L4253.7,1540.9M4253.4,1571.2L4256.2,1614.7M4241.8,1603.2L4242.5,1608.1M4291.5,1628.8L4288.8,1672.3M4296.3,1632.9L4297.1,1637.8M4343.4,1606.5L4348.0,1650.0M4338.4,1629.4L4339.1,1634.4M4394.3,1554.7L4395.1,1559.6M4390.5,1587.3L4388.4,1631.8M4399.2,1587.3L4400.3,1631.8M4132.4,1653.6L4140.8,1718.3M4165.8,1690.9L4158.0,1720.4M4171.1,1673.5L4171.8,1678.4M4175.2,1708.2L4177.4,1751.6M4178.8,1782.0L4179.5,1786.9M4180.3,1818.3L4183.6,1863.2L4189.1,1856.1M4193.1,1778.9L4190.8,1821.3M4195.3,1743.6L4196.1,1748.5M4205.7,1709.0L4198.8,1713.4M4214.5,1715.3L4215.3,1720.3M4226.4,1734.0L4234.7,1746.0M4236.3,1712.3L4237.1,1717.2M4240.6,1638.9L4238.3,1680.9M4255.9,1644.6L4256.7,1649.5M4257.4,1680.9L4259.2,1723.4M4259.0,1754.3L4259.7,1759.2M4260.5,1790.0L4262.3,1832.5M4270.5,1840.4L4279.5,1846.7M4265.0,1862.8L4265.8,1867.7M4283.6,1812.3L4284.4,1817.2M4287.5,1738.5L4285.3,1781.9M4287.3,1703.2L4288.0,1708.1M4299.1,1668.7L4303.8,1699.1M4309.5,1730.5L4310.2,1735.4M4313.9,1764.8L4323.0,1771.8M4331.7,1738.5L4332.4,1743.5M4338.0,1665.7L4335.3,1707.2M4347.9,1680.0L4348.6,1684.9M4337.6,1660.1L4337.3,1654.6M4350.0,1715.2L4353.2,1783.0M4363.8,1747.5L4360.5,1790.0M4354.5,1812.9L4355.3,1817.8M4368.7,1724.8L4369.4,1729.7M4386.1,1697.0L4378.0,1737.5M4403.0,1697.0L4406.2,1739.5M4413.5,1720.4L4414.3,1725.3M4387.3,1661.8L4388.0,1666.7M4400.8,1661.8L4401.5,1666.7M4418.1,1756.6L4420.8,1799.1M4423.6,1829.4L4424.4,1834.4M4440.9,1776.8L4437.3,1819.3M4442.4,1740.6L4443.1,1745.5M4446.1,1666.7L4444.3,1709.2M4454.4,1672.8L4456.2,1716.3M4457.0,1746.6L4457.7,1751.6M4467.8,1752.5L4461.0,1780.0M4449.9,1636.5L4450.6,1641.5"/>
</g>
<path class="tk" d="M660.7,946.4V919.9M966.8,946.4V919.9M1273.0,946.4V919.9M1579.2,946.4V919.9M1885.3,946.4V919.9M354.5,217.7H381.0M354.5,399.9H381.0M354.5,582.0H381.0M354.5,764.2H381.0"/>
<rect class="ax" x="354.5" y="35.5" width="1837.0" height="910.9"/>
<path class="tk" d="M2943.8,945.5V919.0M3249.9,945.5V919.0M3556.1,945.5V919.0M3862.2,945.5V919.0M4168.4,945.5V919.0M2637.6,259.4H2664.1M2637.6,488.2H2664.1M2637.6,716.8H2664.1"/>
<rect class="ax" x="2637.6" y="34.7" width="1836.9" height="910.8"/>
<path class="tk" d="M659.7,2180.6V2154.1M965.9,2180.6V2154.1M1272.0,2180.6V2154.1M1578.2,2180.6V2154.1M1884.4,2180.6V2154.1M353.5,1497.3H380.0M353.5,1725.0H380.0M353.5,1952.8H380.0"/>
<rect class="ax" x="353.5" y="1269.5" width="1837.1" height="911.1"/>
<path class="tk" d="M2940.7,2180.6V2154.1M3246.8,2180.6V2154.1M3553.0,2180.6V2154.1M3859.2,2180.6V2154.1M4165.3,2180.6V2154.1M2634.5,1497.3H2661.0M2634.5,1725.0H2661.0M2634.5,1952.8H2661.0"/>
<rect class="ax" x="2634.5" y="1269.5" width="1837.0" height="911.1"/>
<path class="g" d="M1046.2,138H1264"/>
<path class="b" d="M1046.1,239.1H1084.0M1135.8,239.1H1173.7M1224.3,239.1H1262.2"/>
<circle cx="3859" cy="141.7" r="15.5" fill="url(#sp)"/>
<path class="b" d="M3750.8,239.5H3968"/>
<path class="g" d="M557.3,1354.8H774.6"/>
<path class="g" d="M2804.5,1341H3021.8"/>
<path class="b" d="M1321.8,1354.8H1366.9M1395.8,1354.8H1402.4M1431.8,1354.8H1478.1M1507.5,1354.8H1514.2M3567.2,1341.0H3612.2M3641.2,1341.0H3647.8M3677.2,1341.0H3723.5M3752.9,1341.0H3759.6"/>
<text class="t k" x="319.5" y="63.5" text-anchor="end">0.5</text>
<text class="t k" x="319.5" y="245.0" text-anchor="end">0</text>
<text class="t k" x="319.5" y="428.8" text-anchor="end">−0.5</text>
<text class="t k" x="319.5" y="614.0" text-anchor="end">−1.0</text>
<text class="t k" x="319.5" y="797.2" text-anchor="end">−1.5</text>
<text class="t k" x="319.5" y="980.0" text-anchor="end">−2.0</text>
<text class="t k" x="358.2" y="1042.8" text-anchor="middle">0</text>
<text class="t k" x="656.0" y="1042.8" text-anchor="middle">0.3</text>
<text class="t k" x="963.5" y="1042.8" text-anchor="middle">0.6</text>
<text class="t k" x="1271.5" y="1042.8" text-anchor="middle">0.9</text>
<text class="t k" x="1576.5" y="1042.8" text-anchor="middle">1.2</text>
<text class="t k" x="1884.0" y="1042.8" text-anchor="middle">1.5</text>
<text class="t k" x="2190.5" y="1042.8" text-anchor="middle">1.8</text>
<text class="t" x="382.0" y="127.0">(a)</text>
<text class="t" x="1256.5" y="1172.0" text-anchor="middle"><tspan class="c" dy="7">时间</tspan><tspan dy="-7">/s</tspan></text>
<text class="t" x="81.5" y="508.0" text-anchor="middle" transform="rotate(-90 81.5 508.0)"><tspan class="c" dy="7">位移</tspan><tspan dy="-7">/mm</tspan></text>
<text class="c" x="1303.0" y="175.5">实测结果</text>
<text class="c" x="1302.5" y="276.0">数值模拟</text>
<text class="t k" x="2603.5" y="72.0" text-anchor="end">1.3</text>
<text class="t k" x="2603.5" y="290.0" text-anchor="end">1.2</text>
<text class="t k" x="2603.5" y="516.1" text-anchor="end">1.1</text>
<text class="t k" x="2603.5" y="748.5" text-anchor="end">1.0</text>
<text class="t k" x="2603.5" y="980.5" text-anchor="end">0.9</text>
<text class="t k" x="2635.8" y="1044.5" text-anchor="middle">50</text>
<text class="t k" x="2942.5" y="1044.5" text-anchor="middle">100</text>
<text class="t k" x="3252.7" y="1044.5" text-anchor="middle">150</text>
<text class="t k" x="3551.6" y="1044.5" text-anchor="middle">200</text>
<text class="t k" x="3858.5" y="1044.5" text-anchor="middle">250</text>
<text class="t k" x="4164.5" y="1044.5" text-anchor="middle">300</text>
<text class="t k" x="4477.0" y="1044.5" text-anchor="middle">350</text>
<text class="t" x="2664.0" y="127.0">(b)</text>
<text class="c" x="2437.5" y="488.5" text-anchor="middle" transform="rotate(-90 2437.5 488.5)">动力系数</text>
<text class="t" x="3545.0" y="1171.7" text-anchor="middle"><tspan class="c" dy="7">车速</tspan><tspan dy="-7">/(km•h</tspan><tspan class="s" dy="-38">−1</tspan><tspan dy="38">)</tspan></text>
<text class="c" x="4009.0" y="175.5">实测结果</text>
<text class="c" x="4008.5" y="275.0">数值模拟</text>
<text class="t k" x="319.5" y="1302.2" text-anchor="end">0.6</text>
<text class="t k" x="319.5" y="1531.8" text-anchor="end">0.3</text>
<text class="t k" x="319.5" y="1753.5" text-anchor="end">0</text>
<text class="t k" x="319.5" y="1989.4" text-anchor="end">−0.3</text>
<text class="t k" x="319.5" y="2204.5" text-anchor="end">−0.6</text>
<text class="t k" x="353.2" y="2278.0" text-anchor="middle">0</text>
<text class="t k" x="657.1" y="2278.0" text-anchor="middle">1</text>
<text class="t k" x="965.4" y="2278.0" text-anchor="middle">2</text>
<text class="t k" x="1274.0" y="2278.0" text-anchor="middle">3</text>
<text class="t k" x="1576.2" y="2278.0" text-anchor="middle">4</text>
<text class="t k" x="1882.3" y="2278.0" text-anchor="middle">5</text>
<text class="t k" x="2188.6" y="2278.0" text-anchor="middle">6</text>
<text class="t" x="379.0" y="1367.5">(c)</text>
<text class="t" x="1251.0" y="2412.0" text-anchor="middle"><tspan class="c" dy="7">时间</tspan><tspan dy="-7">/s</tspan></text>
<text class="t" x="76.5" y="1737.0" text-anchor="middle" transform="rotate(-90 76.5 1737.0)"><tspan class="c" dy="7">加速度</tspan><tspan dy="-7">/(m•s</tspan><tspan class="s" dy="-38">−2</tspan><tspan dy="38">)</tspan></text>
<text class="c" x="823.0" y="1392.5">实测结果</text>
<text class="c" x="1549.0" y="1398.5">数值模拟</text>
<text class="t k" x="2603.5" y="1301.4" text-anchor="end">0.6</text>
<text class="t k" x="2603.5" y="1531.8" text-anchor="end">0.3</text>
<text class="t k" x="2603.5" y="1754.7" text-anchor="end">0</text>
<text class="t k" x="2603.5" y="1989.4" text-anchor="end">−0.3</text>
<text class="t k" x="2603.5" y="2204.5" text-anchor="end">−0.6</text>
<text class="t k" x="2634.0" y="2278.0" text-anchor="middle">0</text>
<text class="t k" x="2938.0" y="2278.0" text-anchor="middle">1</text>
<text class="t k" x="3246.0" y="2278.0" text-anchor="middle">2</text>
<text class="t k" x="3555.0" y="2278.0" text-anchor="middle">3</text>
<text class="t k" x="3857.0" y="2278.0" text-anchor="middle">4</text>
<text class="t k" x="4163.0" y="2278.0" text-anchor="middle">5</text>
<text class="t k" x="4469.5" y="2278.0" text-anchor="middle">6</text>
<text class="t" x="2657.0" y="1360.5">(d)</text>
<text class="t" x="3545.0" y="2411.6" text-anchor="middle"><tspan class="c" dy="7">时间</tspan><tspan dy="-7">/s</tspan></text>
<text class="t" x="2374.5" y="1737.0" text-anchor="middle" transform="rotate(-90 2374.5 1737.0)"><tspan class="c" dy="7">加速度</tspan><tspan dy="-7">/(m•s</tspan><tspan class="s" dy="-38">−2</tspan><tspan dy="38">)</tspan></text>
<text class="c" x="3059.0" y="1378.0">实测结果</text>
<text class="c" x="3807.0" y="1378.0">数值模拟</text>
</svg></body></html>
